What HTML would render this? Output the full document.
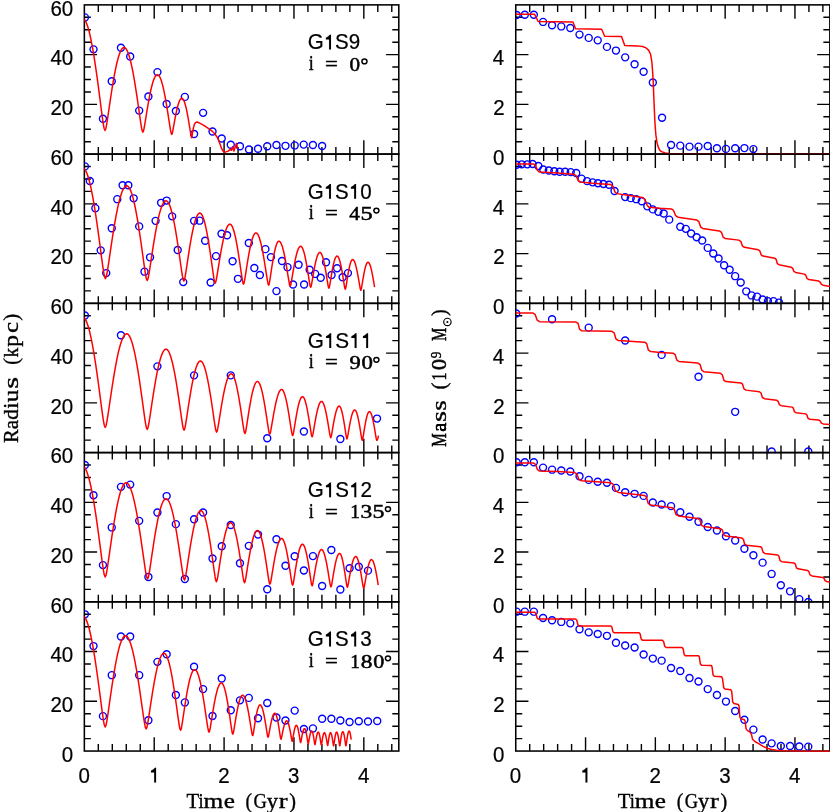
<!DOCTYPE html>
<html><head><meta charset="utf-8"><title>Orbital decay</title>
<style>html,body{margin:0;padding:0;background:#fff}body{width:830px;height:812px;overflow:hidden;font-family:"Liberation Sans",sans-serif}svg{display:block;will-change:transform}</style>
</head><body>
<svg width="830" height="812" viewBox="0 0 830 812">
<rect width="830" height="812" fill="#fff"/>
<defs>
<clipPath id="cl0"><rect x="84.35" y="4.88" width="314.45" height="149.23"/></clipPath>
<clipPath id="cr0"><rect x="515.75" y="4.88" width="316.1" height="149.98"/></clipPath>
<clipPath id="cl1"><rect x="84.35" y="154.11" width="314.45" height="149.23"/></clipPath>
<clipPath id="cr1"><rect x="515.75" y="154.11" width="316.1" height="149.98"/></clipPath>
<clipPath id="cl2"><rect x="84.35" y="303.35" width="314.45" height="149.23"/></clipPath>
<clipPath id="cr2"><rect x="515.75" y="303.35" width="316.1" height="149.98"/></clipPath>
<clipPath id="cl3"><rect x="84.35" y="452.58" width="314.45" height="149.23"/></clipPath>
<clipPath id="cr3"><rect x="515.75" y="452.58" width="316.1" height="149.98"/></clipPath>
<clipPath id="cl4"><rect x="84.35" y="601.82" width="314.45" height="149.23"/></clipPath>
<clipPath id="cr4"><rect x="515.75" y="601.82" width="316.1" height="149.98"/></clipPath>
</defs>
<rect x="84.35" y="4.88" width="314.45" height="149.23" fill="none" stroke="#000" stroke-width="1.55"/>
<path d="M98.32 4.88v7M98.32 154.11v-7M112.3 4.88v7M112.3 154.11v-7M126.27 4.88v7M126.27 154.11v-7M140.25 4.88v7M140.25 154.11v-7M154.22 4.88v13.8M154.22 154.11v-13.8M168.19 4.88v7M168.19 154.11v-7M182.17 4.88v7M182.17 154.11v-7M196.14 4.88v7M196.14 154.11v-7M210.12 4.88v7M210.12 154.11v-7M224.09 4.88v13.8M224.09 154.11v-13.8M238.06 4.88v7M238.06 154.11v-7M252.04 4.88v7M252.04 154.11v-7M266.01 4.88v7M266.01 154.11v-7M279.99 4.88v7M279.99 154.11v-7M293.96 4.88v13.8M293.96 154.11v-13.8M307.93 4.88v7M307.93 154.11v-7M321.91 4.88v7M321.91 154.11v-7M335.88 4.88v7M335.88 154.11v-7M349.86 4.88v7M349.86 154.11v-7M363.83 4.88v13.8M363.83 154.11v-13.8M377.8 4.88v7M377.8 154.11v-7M391.78 4.88v7M391.78 154.11v-7M84.35 141.68h6.5M398.8 141.68h-6.5M84.35 129.24h6.5M398.8 129.24h-6.5M84.35 116.81h6.5M398.8 116.81h-6.5M84.35 104.37h12.7M398.8 104.37h-12.7M84.35 91.93h6.5M398.8 91.93h-6.5M84.35 79.5h6.5M398.8 79.5h-6.5M84.35 67.06h6.5M398.8 67.06h-6.5M84.35 54.62h12.7M398.8 54.62h-12.7M84.35 42.19h6.5M398.8 42.19h-6.5M84.35 29.75h6.5M398.8 29.75h-6.5M84.35 17.32h6.5M398.8 17.32h-6.5" stroke="#000" stroke-width="1.4" fill="none"/>
<g fill="none" stroke="#0000ff" stroke-width="1.4" clip-path="url(#cl0)"><circle cx="84.92" cy="17.41" r="3.5"/><circle cx="93.52" cy="49.36" r="3.5"/><circle cx="102.94" cy="118.8" r="3.5"/><circle cx="111.75" cy="81.31" r="3.5"/><circle cx="120.96" cy="47.72" r="3.5"/><circle cx="130.18" cy="56.53" r="3.5"/><circle cx="139.19" cy="110.6" r="3.5"/><circle cx="148.41" cy="96.47" r="3.5"/><circle cx="157.42" cy="72.1" r="3.5"/><circle cx="166.64" cy="104.05" r="3.5"/><circle cx="175.86" cy="111.01" r="3.5"/><circle cx="184.87" cy="96.88" r="3.5"/><circle cx="194.08" cy="133.95" r="3.5"/><circle cx="203.1" cy="112.86" r="3.5"/><circle cx="212.52" cy="131.49" r="3.5"/><circle cx="221.73" cy="138.46" r="3.5"/><circle cx="230.75" cy="144.81" r="3.5"/><circle cx="239.96" cy="146.24" r="3.5"/><circle cx="249.01" cy="149.52" r="3.5"/><circle cx="258.02" cy="148.7" r="3.5"/><circle cx="267.24" cy="146.24" r="3.5"/><circle cx="276.46" cy="145.01" r="3.5"/><circle cx="285.47" cy="145.83" r="3.5"/><circle cx="294.69" cy="145.42" r="3.5"/><circle cx="303.7" cy="144.6" r="3.5"/><circle cx="312.92" cy="145.01" r="3.5"/><circle cx="322.13" cy="146.04" r="3.5"/></g>
<path d="M82.46 18.36 L83.39 18.62 L84.33 19.42 L85.27 20.75 L86.21 22.59 L87.15 24.96 L88.09 27.82 L89.03 31.18 L89.97 35 L90.91 39.29 L91.84 44.02 L92.78 49.16 L93.72 54.7 L94.66 60.6 L95.6 66.83 L96.54 73.37 L97.48 80.18 L98.42 87.21 L99.35 94.41 L100.29 101.72 L101.23 109.05 L102.17 116.21 L103.11 122.88 L104.05 128.22 L104.99 130.47 L105.78 128.81 L106.58 124.85 L107.37 119.92 L108.16 114.62 L108.96 109.2 L109.75 103.79 L110.54 98.46 L111.34 93.26 L112.13 88.22 L112.92 83.38 L113.72 78.77 L114.51 74.4 L115.31 70.31 L116.1 66.5 L116.89 63.01 L117.69 59.84 L118.48 57 L119.27 54.52 L120.07 52.4 L120.86 50.65 L121.66 49.29 L122.45 48.31 L123.24 47.72 L124.04 47.52 L124.82 47.72 L125.61 48.32 L126.39 49.32 L127.18 50.71 L127.96 52.5 L128.75 54.66 L129.53 57.19 L130.32 60.08 L131.1 63.31 L131.89 66.88 L132.67 70.76 L133.46 74.94 L134.24 79.39 L135.03 84.09 L135.81 89.03 L136.6 94.16 L137.38 99.47 L138.17 104.9 L138.95 110.42 L139.74 115.94 L140.52 121.35 L141.31 126.38 L142.09 130.41 L142.88 132.11 L143.49 130.96 L144.09 128.22 L144.7 124.81 L145.3 121.15 L145.91 117.4 L146.52 113.66 L147.12 109.98 L147.73 106.38 L148.33 102.9 L148.94 99.55 L149.54 96.36 L150.15 93.35 L150.76 90.52 L151.36 87.89 L151.97 85.47 L152.57 83.27 L153.18 81.32 L153.79 79.6 L154.39 78.13 L155 76.93 L155.6 75.98 L156.21 75.3 L156.82 74.9 L157.42 74.76 L158.02 74.9 L158.62 75.32 L159.21 76.03 L159.81 77.01 L160.41 78.27 L161.01 79.79 L161.6 81.57 L162.2 83.61 L162.8 85.89 L163.4 88.4 L163.99 91.13 L164.59 94.08 L165.19 97.21 L165.79 100.53 L166.38 104.01 L166.98 107.62 L167.58 111.36 L168.17 115.19 L168.77 119.08 L169.37 122.97 L169.97 126.78 L170.56 130.32 L171.16 133.17 L171.76 134.36 L172.18 133.64 L172.6 131.92 L173.01 129.78 L173.43 127.47 L173.85 125.12 L174.27 122.77 L174.69 120.45 L175.1 118.19 L175.52 116 L175.94 113.9 L176.36 111.89 L176.78 110 L177.2 108.22 L177.61 106.56 L178.03 105.04 L178.45 103.67 L178.87 102.43 L179.29 101.36 L179.7 100.43 L180.12 99.68 L180.54 99.08 L180.96 98.66 L181.38 98.4 L181.8 98.31 L182.21 98.41 L182.63 98.69 L183.05 99.16 L183.47 99.81 L183.89 100.64 L184.3 101.65 L184.72 102.83 L185.14 104.18 L185.56 105.69 L185.98 107.36 L186.4 109.17 L186.81 111.13 L187.23 113.21 L187.65 115.4 L188.07 117.71 L188.49 120.11 L188.9 122.59 L189.32 125.13 L189.74 127.71 L190.16 130.29 L190.58 132.82 L190.99 135.17 L191.41 137.05 L191.83 137.84 L192.34 133.73 L193.3 128.43 L194.46 124.1 L195.71 122.36 L197.16 121.98 L200.24 123.42 L204.1 125.54 L207.95 128.14 L211.81 130.84 L214.7 133.73 L217.59 137.78 L219.04 141.45 L220.48 145.3 L221.64 148.67 L222.89 150.89 L224.14 152.05 L225.3 152.14 L228.19 151.08 L230.12 149.54 L231.57 150.22 L232.53 146.65 L233.98 151.08 L236.39 143.37 L237.64 148.67" fill="none" stroke="#ff0000" stroke-width="1.5" stroke-linejoin="round" clip-path="url(#cl0)"/>
<rect x="515.75" y="4.88" width="314.1" height="149.23" fill="none" stroke="#000" stroke-width="1.55"/>
<path d="M529.71 4.88v7M529.71 154.11v-7M543.67 4.88v7M543.67 154.11v-7M557.63 4.88v7M557.63 154.11v-7M571.59 4.88v7M571.59 154.11v-7M585.55 4.88v13.8M585.55 154.11v-13.8M599.51 4.88v7M599.51 154.11v-7M613.47 4.88v7M613.47 154.11v-7M627.43 4.88v7M627.43 154.11v-7M641.39 4.88v7M641.39 154.11v-7M655.35 4.88v13.8M655.35 154.11v-13.8M669.31 4.88v7M669.31 154.11v-7M683.27 4.88v7M683.27 154.11v-7M697.23 4.88v7M697.23 154.11v-7M711.19 4.88v7M711.19 154.11v-7M725.15 4.88v13.8M725.15 154.11v-13.8M739.11 4.88v7M739.11 154.11v-7M753.07 4.88v7M753.07 154.11v-7M767.03 4.88v7M767.03 154.11v-7M780.99 4.88v7M780.99 154.11v-7M794.95 4.88v13.8M794.95 154.11v-13.8M808.91 4.88v7M808.91 154.11v-7M822.87 4.88v7M822.87 154.11v-7M515.75 141.68h6.5M829.85 141.68h-6.5M515.75 129.24h6.5M829.85 129.24h-6.5M515.75 116.81h6.5M829.85 116.81h-6.5M515.75 104.37h12.7M829.85 104.37h-12.7M515.75 91.93h6.5M829.85 91.93h-6.5M515.75 79.5h6.5M829.85 79.5h-6.5M515.75 67.06h6.5M829.85 67.06h-6.5M515.75 54.62h12.7M829.85 54.62h-12.7M515.75 42.19h6.5M829.85 42.19h-6.5M515.75 29.75h6.5M829.85 29.75h-6.5M515.75 17.32h6.5M829.85 17.32h-6.5" stroke="#000" stroke-width="1.4" fill="none"/>
<g fill="none" stroke="#0000ff" stroke-width="1.4" clip-path="url(#cr0)"><circle cx="516.63" cy="14.95" r="3.5"/><circle cx="524.82" cy="14.75" r="3.5"/><circle cx="533.83" cy="14.75" r="3.5"/><circle cx="543.05" cy="21.92" r="3.5"/><circle cx="552.06" cy="25.19" r="3.5"/><circle cx="561.28" cy="26.42" r="3.5"/><circle cx="570.29" cy="28.06" r="3.5"/><circle cx="579.51" cy="34.61" r="3.5"/><circle cx="588.72" cy="37.89" r="3.5"/><circle cx="597.73" cy="40.35" r="3.5"/><circle cx="606.95" cy="46.9" r="3.5"/><circle cx="615.96" cy="50.59" r="3.5"/><circle cx="625.18" cy="57.35" r="3.5"/><circle cx="634.6" cy="64.31" r="3.5"/><circle cx="643.61" cy="71.69" r="3.5"/><circle cx="652.83" cy="82.54" r="3.5"/><circle cx="662.05" cy="117.77" r="3.5"/><circle cx="671.06" cy="145.01" r="3.5"/><circle cx="680.28" cy="145.63" r="3.5"/><circle cx="689.49" cy="146.65" r="3.5"/><circle cx="698.51" cy="146.65" r="3.5"/><circle cx="707.72" cy="146.04" r="3.5"/><circle cx="716.94" cy="148.29" r="3.5"/><circle cx="725.95" cy="148.9" r="3.5"/><circle cx="735.17" cy="148.29" r="3.5"/><circle cx="744.39" cy="148.08" r="3.5"/><circle cx="753.4" cy="149.11" r="3.5"/></g>
<path d="M515.4 14.34 L534.65 14.34 L538.13 21.51 L572.95 21.92 L575.61 28.67 L601.63 29.29 L604.7 36.25 L621.49 36.46 L624.77 45.47 L637.47 45.88 L642.59 46.49 L646.07 47.93 L648.73 50.39 L650.58 54.28 L651.81 61.45 L652.63 71.69 L653.24 81.93 L653.86 98.31 L654.47 112.65 L655.08 124.94 L655.9 135.18 L656.93 142.35 L658.36 147.47 L660 150.54 L661.64 151.57 L665.12 153 L672.29 153.98 L830 154.07" fill="none" stroke="#ff0000" stroke-width="1.5" stroke-linejoin="round" clip-path="url(#cr0)"/>
<text x="50.41" y="15.58" font-family="Liberation Sans, sans-serif" font-size="21.7" textLength="22.8" lengthAdjust="spacingAndGlyphs" stroke="#000" stroke-width="0.22">60</text>
<text x="50.41" y="65.32" font-family="Liberation Sans, sans-serif" font-size="21.7" textLength="22.8" lengthAdjust="spacingAndGlyphs" stroke="#000" stroke-width="0.22">40</text>
<text x="50.41" y="115.07" font-family="Liberation Sans, sans-serif" font-size="21.7" textLength="22.8" lengthAdjust="spacingAndGlyphs" stroke="#000" stroke-width="0.22">20</text>
<text x="492.79" y="65.32" font-family="Liberation Sans, sans-serif" font-size="21.7" textLength="11.4" lengthAdjust="spacingAndGlyphs" stroke="#000" stroke-width="0.22">4</text>
<text x="493.25" y="115.07" font-family="Liberation Sans, sans-serif" font-size="21.7" textLength="11.4" lengthAdjust="spacingAndGlyphs" stroke="#000" stroke-width="0.22">2</text>
<text x="492.99" y="164.81" font-family="Liberation Sans, sans-serif" font-size="21.7" textLength="11.4" lengthAdjust="spacingAndGlyphs" stroke="#000" stroke-width="0.22">0</text>
<text x="307.67" y="49.48" font-family="Liberation Sans, sans-serif" font-size="21.7" textLength="15.99" lengthAdjust="spacingAndGlyphs" stroke="#000" stroke-width="0.22">G</text><path d="M330.99 49.48L330.99 34.68L329.83 34.68Q328.23 36.78 325.87 37.68L325.87 39.48L329.08 39.48L329.08 49.48Z" fill="#000" stroke="#000" stroke-width="0.08"/><text x="335.1" y="49.48" font-family="Liberation Sans, sans-serif" font-size="21.7" textLength="13.71" lengthAdjust="spacingAndGlyphs" stroke="#000" stroke-width="0.22">S</text><text x="348.81" y="49.48" font-family="Liberation Sans, sans-serif" font-size="21.7" textLength="11.44" lengthAdjust="spacingAndGlyphs" stroke="#000" stroke-width="0.22">9</text>
<text x="308.88" y="69.88" font-family="Liberation Serif, serif" font-size="20.8" textLength="4.52" lengthAdjust="spacingAndGlyphs" stroke="#000" stroke-width="0.6">i</text>
<text x="325.06" y="70.88" font-family="Liberation Serif, serif" font-size="20.8" textLength="12.86" lengthAdjust="spacingAndGlyphs" stroke="#000" stroke-width="0.42">=</text>
<text x="349.51" y="70.58" font-family="Liberation Serif, serif" font-size="19.4" textLength="10.59" lengthAdjust="spacingAndGlyphs" stroke="#000" stroke-width="0.5">0</text>
<ellipse cx="364.45" cy="61.38" rx="2.55" ry="2.4" fill="none" stroke="#000" stroke-width="1.45"/>
<rect x="84.35" y="154.11" width="314.45" height="149.23" fill="none" stroke="#000" stroke-width="1.55"/>
<path d="M98.32 154.11v7M98.32 303.35v-7M112.3 154.11v7M112.3 303.35v-7M126.27 154.11v7M126.27 303.35v-7M140.25 154.11v7M140.25 303.35v-7M154.22 154.11v13.8M154.22 303.35v-13.8M168.19 154.11v7M168.19 303.35v-7M182.17 154.11v7M182.17 303.35v-7M196.14 154.11v7M196.14 303.35v-7M210.12 154.11v7M210.12 303.35v-7M224.09 154.11v13.8M224.09 303.35v-13.8M238.06 154.11v7M238.06 303.35v-7M252.04 154.11v7M252.04 303.35v-7M266.01 154.11v7M266.01 303.35v-7M279.99 154.11v7M279.99 303.35v-7M293.96 154.11v13.8M293.96 303.35v-13.8M307.93 154.11v7M307.93 303.35v-7M321.91 154.11v7M321.91 303.35v-7M335.88 154.11v7M335.88 303.35v-7M349.86 154.11v7M349.86 303.35v-7M363.83 154.11v13.8M363.83 303.35v-13.8M377.8 154.11v7M377.8 303.35v-7M391.78 154.11v7M391.78 303.35v-7M84.35 290.91h6.5M398.8 290.91h-6.5M84.35 278.48h6.5M398.8 278.48h-6.5M84.35 266.04h6.5M398.8 266.04h-6.5M84.35 253.6h12.7M398.8 253.6h-12.7M84.35 241.17h6.5M398.8 241.17h-6.5M84.35 228.73h6.5M398.8 228.73h-6.5M84.35 216.29h6.5M398.8 216.29h-6.5M84.35 203.86h12.7M398.8 203.86h-12.7M84.35 191.42h6.5M398.8 191.42h-6.5M84.35 178.99h6.5M398.8 178.99h-6.5M84.35 166.55h6.5M398.8 166.55h-6.5" stroke="#000" stroke-width="1.4" fill="none"/>
<g fill="none" stroke="#0000ff" stroke-width="1.4" clip-path="url(#cl1)"><circle cx="84.92" cy="166.39" r="3.5"/><circle cx="89.83" cy="180.93" r="3.5"/><circle cx="95.36" cy="208.17" r="3.5"/><circle cx="100.69" cy="250.36" r="3.5"/><circle cx="106.22" cy="273.1" r="3.5"/><circle cx="111.75" cy="228.24" r="3.5"/><circle cx="117.28" cy="199.16" r="3.5"/><circle cx="122.6" cy="185.23" r="3.5"/><circle cx="128.34" cy="185.23" r="3.5"/><circle cx="133.66" cy="198.34" r="3.5"/><circle cx="139.19" cy="226.4" r="3.5"/><circle cx="144.52" cy="271.66" r="3.5"/><circle cx="150.05" cy="257.33" r="3.5"/><circle cx="155.58" cy="220.87" r="3.5"/><circle cx="161.11" cy="202.84" r="3.5"/><circle cx="166.64" cy="200.59" r="3.5"/><circle cx="172.17" cy="216.36" r="3.5"/><circle cx="177.7" cy="249.95" r="3.5"/><circle cx="183.23" cy="282.11" r="3.5"/><circle cx="194.08" cy="220.87" r="3.5"/><circle cx="199.61" cy="220.66" r="3.5"/><circle cx="205.14" cy="240.73" r="3.5"/><circle cx="210.67" cy="282.52" r="3.5"/><circle cx="216" cy="256.1" r="3.5"/><circle cx="221.53" cy="233.77" r="3.5"/><circle cx="227.06" cy="235.2" r="3.5"/><circle cx="232.59" cy="261.22" r="3.5"/><circle cx="237.92" cy="278.83" r="3.5"/><circle cx="248.81" cy="242.99" r="3.5"/><circle cx="254.34" cy="267.98" r="3.5"/><circle cx="259.87" cy="274.94" r="3.5"/><circle cx="265.4" cy="249.13" r="3.5"/><circle cx="270.93" cy="257.12" r="3.5"/><circle cx="276.46" cy="291.12" r="3.5"/><circle cx="281.99" cy="261.01" r="3.5"/><circle cx="287.52" cy="267.16" r="3.5"/><circle cx="293.05" cy="284.57" r="3.5"/><circle cx="298.58" cy="264.7" r="3.5"/><circle cx="304.11" cy="284.57" r="3.5"/><circle cx="309.64" cy="269.82" r="3.5"/><circle cx="315.17" cy="273.92" r="3.5"/><circle cx="320.7" cy="277.81" r="3.5"/><circle cx="326.02" cy="262.24" r="3.5"/><circle cx="331.55" cy="274.94" r="3.5"/><circle cx="337.08" cy="268.18" r="3.5"/><circle cx="342.61" cy="277.19" r="3.5"/><circle cx="347.94" cy="273.1" r="3.5"/></g>
<path d="M82.46 167.74 L83.41 168.01 L84.37 168.8 L85.32 170.11 L86.28 171.93 L87.24 174.27 L88.19 177.1 L89.15 180.42 L90.1 184.21 L91.06 188.45 L92.02 193.12 L92.97 198.21 L93.93 203.68 L94.88 209.52 L95.84 215.69 L96.79 222.15 L97.75 228.88 L98.71 235.84 L99.66 242.96 L100.62 250.2 L101.57 257.44 L102.53 264.52 L103.49 271.12 L104.44 276.4 L105.4 278.63 L106.29 276.77 L107.17 272.34 L108.06 266.83 L108.95 260.9 L109.84 254.84 L110.72 248.79 L111.61 242.82 L112.5 237 L113.39 231.37 L114.27 225.96 L115.16 220.8 L116.05 215.92 L116.94 211.34 L117.82 207.08 L118.71 203.17 L119.6 199.62 L120.49 196.45 L121.37 193.67 L122.26 191.3 L123.15 189.35 L124.04 187.82 L124.92 186.72 L125.81 186.06 L126.7 185.84 L127.55 186.07 L128.41 186.74 L129.26 187.86 L130.11 189.42 L130.97 191.41 L131.82 193.83 L132.67 196.66 L133.53 199.89 L134.38 203.51 L135.23 207.5 L136.09 211.84 L136.94 216.51 L137.79 221.49 L138.65 226.76 L139.5 232.28 L140.35 238.02 L141.21 243.96 L142.06 250.04 L142.91 256.21 L143.77 262.39 L144.62 268.43 L145.47 274.06 L146.33 278.57 L147.18 280.47 L147.97 278.87 L148.75 275.07 L149.54 270.34 L150.32 265.24 L151.11 260.04 L151.89 254.85 L152.68 249.72 L153.46 244.73 L154.25 239.89 L155.03 235.24 L155.82 230.81 L156.6 226.62 L157.39 222.69 L158.17 219.03 L158.96 215.67 L159.74 212.63 L160.53 209.9 L161.31 207.52 L162.1 205.48 L162.88 203.81 L163.67 202.49 L164.45 201.55 L165.24 200.98 L166.02 200.8 L166.77 200.99 L167.51 201.56 L168.25 202.51 L168.99 203.83 L169.74 205.52 L170.48 207.57 L171.22 209.97 L171.96 212.72 L172.71 215.79 L173.45 219.17 L174.19 222.85 L174.93 226.82 L175.68 231.04 L176.42 235.51 L177.16 240.19 L177.9 245.07 L178.65 250.1 L179.39 255.26 L180.13 260.5 L180.87 265.74 L181.62 270.87 L182.36 275.65 L183.1 279.47 L183.84 281.08 L184.51 279.72 L185.17 276.48 L185.84 272.44 L186.51 268.09 L187.17 263.65 L187.84 259.21 L188.5 254.84 L189.17 250.58 L189.83 246.45 L190.5 242.49 L191.17 238.7 L191.83 235.12 L192.5 231.77 L193.16 228.65 L193.83 225.78 L194.49 223.18 L195.16 220.86 L195.83 218.82 L196.49 217.09 L197.16 215.65 L197.82 214.53 L198.49 213.73 L199.15 213.25 L199.82 213.08 L200.46 213.25 L201.1 213.75 L201.74 214.58 L202.38 215.73 L203.02 217.21 L203.66 219 L204.3 221.09 L204.94 223.49 L205.58 226.16 L206.22 229.12 L206.86 232.33 L207.5 235.79 L208.14 239.47 L208.78 243.37 L209.42 247.46 L210.06 251.71 L210.7 256.1 L211.34 260.6 L211.98 265.17 L212.62 269.75 L213.26 274.22 L213.9 278.39 L214.54 281.73 L215.18 283.13 L215.8 281.95 L216.41 279.14 L217.02 275.63 L217.64 271.86 L218.25 268.01 L218.87 264.16 L219.48 260.37 L220.1 256.67 L220.71 253.09 L221.33 249.65 L221.94 246.37 L222.55 243.26 L223.17 240.35 L223.78 237.65 L224.4 235.16 L225.01 232.9 L225.63 230.89 L226.24 229.12 L226.86 227.62 L227.47 226.37 L228.08 225.4 L228.7 224.7 L229.31 224.28 L229.93 224.14 L230.49 224.29 L231.06 224.71 L231.62 225.42 L232.19 226.41 L232.75 227.68 L233.32 229.21 L233.88 231.01 L234.45 233.06 L235.01 235.35 L235.58 237.88 L236.14 240.63 L236.7 243.6 L237.27 246.75 L237.83 250.09 L238.4 253.59 L238.96 257.24 L239.53 261 L240.09 264.86 L240.66 268.77 L241.22 272.69 L241.79 276.52 L242.35 280.09 L242.92 282.95 L243.48 284.16 L244 283.13 L244.52 280.69 L245.04 277.64 L245.56 274.37 L246.08 271.03 L246.61 267.69 L247.13 264.4 L247.65 261.19 L248.17 258.08 L248.69 255.09 L249.21 252.24 L249.73 249.55 L250.25 247.02 L250.77 244.67 L251.29 242.51 L251.81 240.56 L252.33 238.81 L252.85 237.27 L253.37 235.97 L253.89 234.89 L254.41 234.04 L254.93 233.44 L255.46 233.07 L255.98 232.95 L256.51 233.08 L257.03 233.45 L257.56 234.06 L258.09 234.93 L258.62 236.03 L259.15 237.36 L259.68 238.92 L260.21 240.71 L260.74 242.7 L261.27 244.91 L261.8 247.3 L262.33 249.88 L262.85 252.63 L263.38 255.53 L263.91 258.58 L264.44 261.75 L264.97 265.03 L265.5 268.38 L266.03 271.79 L266.56 275.2 L267.09 278.54 L267.62 281.64 L268.15 284.13 L268.67 285.18 L269.1 284.3 L269.53 282.2 L269.95 279.58 L270.38 276.77 L270.81 273.89 L271.23 271.02 L271.66 268.19 L272.09 265.43 L272.52 262.75 L272.94 260.18 L273.37 257.73 L273.8 255.42 L274.22 253.24 L274.65 251.22 L275.08 249.37 L275.5 247.68 L275.93 246.18 L276.36 244.86 L276.78 243.74 L277.21 242.81 L277.64 242.08 L278.06 241.56 L278.49 241.25 L278.92 241.14 L279.39 241.25 L279.85 241.57 L280.32 242.1 L280.79 242.85 L281.26 243.8 L281.73 244.95 L282.2 246.3 L282.67 247.84 L283.14 249.56 L283.61 251.46 L284.08 253.53 L284.55 255.75 L285.02 258.12 L285.49 260.63 L285.96 263.26 L286.43 265.99 L286.9 268.82 L287.36 271.71 L287.83 274.65 L288.3 277.59 L288.77 280.47 L289.24 283.15 L289.71 285.3 L290.18 286.2 L290.62 285.4 L291.05 283.5 L291.49 281.12 L291.92 278.57 L292.36 275.96 L292.79 273.36 L293.23 270.79 L293.66 268.29 L294.1 265.86 L294.53 263.53 L294.97 261.31 L295.4 259.21 L295.84 257.24 L296.27 255.41 L296.71 253.72 L297.14 252.2 L297.58 250.83 L298.02 249.64 L298.45 248.62 L298.89 247.77 L299.32 247.12 L299.76 246.64 L300.19 246.36 L300.63 246.27 L301.04 246.36 L301.46 246.65 L301.88 247.14 L302.3 247.81 L302.72 248.68 L303.14 249.72 L303.55 250.95 L303.97 252.35 L304.39 253.91 L304.81 255.64 L305.23 257.52 L305.64 259.54 L306.06 261.7 L306.48 263.98 L306.9 266.37 L307.32 268.85 L307.74 271.42 L308.15 274.05 L308.57 276.73 L308.99 279.4 L309.41 282.02 L309.83 284.45 L310.24 286.41 L310.66 287.23 L311.05 286.53 L311.43 284.87 L311.81 282.8 L312.2 280.58 L312.58 278.3 L312.97 276.03 L313.35 273.79 L313.73 271.61 L314.12 269.5 L314.5 267.46 L314.89 265.53 L315.27 263.7 L315.66 261.98 L316.04 260.38 L316.42 258.91 L316.81 257.58 L317.19 256.39 L317.58 255.35 L317.96 254.46 L318.34 253.73 L318.73 253.15 L319.11 252.74 L319.5 252.49 L319.88 252.41 L320.26 252.49 L320.63 252.75 L321.01 253.17 L321.38 253.76 L321.76 254.52 L322.13 255.43 L322.51 256.51 L322.88 257.73 L323.26 259.1 L323.63 260.61 L324.01 262.26 L324.39 264.03 L324.76 265.91 L325.14 267.91 L325.51 270 L325.89 272.17 L326.26 274.42 L326.64 276.73 L327.01 279.06 L327.39 281.4 L327.77 283.69 L328.14 285.83 L328.52 287.53 L328.89 288.25 L329.23 287.61 L329.57 286.07 L329.92 284.16 L330.26 282.11 L330.6 280.01 L330.94 277.91 L331.28 275.84 L331.62 273.83 L331.96 271.88 L332.31 270 L332.65 268.21 L332.99 266.52 L333.33 264.93 L333.67 263.46 L334.01 262.1 L334.35 260.87 L334.69 259.77 L335.04 258.81 L335.38 257.99 L335.72 257.31 L336.06 256.78 L336.4 256.4 L336.74 256.17 L337.08 256.1 L337.43 256.18 L337.77 256.41 L338.11 256.8 L338.45 257.35 L338.79 258.05 L339.13 258.9 L339.47 259.89 L339.82 261.02 L340.16 262.29 L340.5 263.69 L340.84 265.21 L341.18 266.85 L341.52 268.6 L341.86 270.44 L342.2 272.38 L342.55 274.39 L342.89 276.47 L343.23 278.61 L343.57 280.77 L343.91 282.94 L344.25 285.06 L344.59 287.03 L344.94 288.61 L345.28 289.28 L345.58 288.68 L345.89 287.27 L346.2 285.5 L346.51 283.6 L346.81 281.66 L347.12 279.73 L347.43 277.82 L347.73 275.95 L348.04 274.15 L348.35 272.42 L348.66 270.77 L348.96 269.2 L349.27 267.74 L349.58 266.38 L349.89 265.12 L350.19 263.99 L350.5 262.97 L350.81 262.08 L351.11 261.33 L351.42 260.7 L351.73 260.21 L352.04 259.86 L352.34 259.65 L352.65 259.58 L352.99 259.65 L353.33 259.87 L353.67 260.23 L354.02 260.74 L354.36 261.39 L354.7 262.17 L355.04 263.09 L355.38 264.14 L355.72 265.32 L356.06 266.61 L356.41 268.02 L356.75 269.54 L357.09 271.15 L357.43 272.86 L357.77 274.65 L358.11 276.52 L358.45 278.45 L358.8 280.42 L359.14 282.42 L359.48 284.43 L359.82 286.39 L360.16 288.22 L360.5 289.68 L360.84 290.3 L361.14 289.74 L361.44 288.4 L361.74 286.73 L362.04 284.94 L362.34 283.11 L362.64 281.28 L362.93 279.47 L363.23 277.71 L363.53 276.01 L363.83 274.37 L364.13 272.81 L364.43 271.34 L364.73 269.95 L365.03 268.66 L365.32 267.48 L365.62 266.41 L365.92 265.45 L366.22 264.61 L366.52 263.89 L366.82 263.3 L367.12 262.84 L367.41 262.51 L367.71 262.31 L368.01 262.24 L368.83 262.7 L369.65 264.07 L370.47 266.31 L371.29 269.34 L372.11 273.07 L372.93 277.39 L373.75 282.16 L374.57 287.23" fill="none" stroke="#ff0000" stroke-width="1.5" stroke-linejoin="round" clip-path="url(#cl1)"/>
<rect x="515.75" y="154.11" width="314.1" height="149.23" fill="none" stroke="#000" stroke-width="1.55"/>
<path d="M529.71 154.11v7M529.71 303.35v-7M543.67 154.11v7M543.67 303.35v-7M557.63 154.11v7M557.63 303.35v-7M571.59 154.11v7M571.59 303.35v-7M585.55 154.11v13.8M585.55 303.35v-13.8M599.51 154.11v7M599.51 303.35v-7M613.47 154.11v7M613.47 303.35v-7M627.43 154.11v7M627.43 303.35v-7M641.39 154.11v7M641.39 303.35v-7M655.35 154.11v13.8M655.35 303.35v-13.8M669.31 154.11v7M669.31 303.35v-7M683.27 154.11v7M683.27 303.35v-7M697.23 154.11v7M697.23 303.35v-7M711.19 154.11v7M711.19 303.35v-7M725.15 154.11v13.8M725.15 303.35v-13.8M739.11 154.11v7M739.11 303.35v-7M753.07 154.11v7M753.07 303.35v-7M767.03 154.11v7M767.03 303.35v-7M780.99 154.11v7M780.99 303.35v-7M794.95 154.11v13.8M794.95 303.35v-13.8M808.91 154.11v7M808.91 303.35v-7M822.87 154.11v7M822.87 303.35v-7M515.75 290.91h6.5M829.85 290.91h-6.5M515.75 278.48h6.5M829.85 278.48h-6.5M515.75 266.04h6.5M829.85 266.04h-6.5M515.75 253.6h12.7M829.85 253.6h-12.7M515.75 241.17h6.5M829.85 241.17h-6.5M515.75 228.73h6.5M829.85 228.73h-6.5M515.75 216.29h6.5M829.85 216.29h-6.5M515.75 203.86h12.7M829.85 203.86h-12.7M515.75 191.42h6.5M829.85 191.42h-6.5M515.75 178.99h6.5M829.85 178.99h-6.5M515.75 166.55h6.5M829.85 166.55h-6.5" stroke="#000" stroke-width="1.4" fill="none"/>
<g fill="none" stroke="#0000ff" stroke-width="1.4" clip-path="url(#cr1)"><circle cx="516.63" cy="164.75" r="3.5"/><circle cx="521.75" cy="164.34" r="3.5"/><circle cx="527.28" cy="164.34" r="3.5"/><circle cx="532.6" cy="163.93" r="3.5"/><circle cx="538.34" cy="165.98" r="3.5"/><circle cx="543.25" cy="169.46" r="3.5"/><circle cx="548.78" cy="170.48" r="3.5"/><circle cx="554.31" cy="171.3" r="3.5"/><circle cx="559.64" cy="171.71" r="3.5"/><circle cx="565.17" cy="171.71" r="3.5"/><circle cx="570.7" cy="172.12" r="3.5"/><circle cx="576.23" cy="172.94" r="3.5"/><circle cx="581.55" cy="178.67" r="3.5"/><circle cx="587.08" cy="181.13" r="3.5"/><circle cx="592.61" cy="182.36" r="3.5"/><circle cx="597.94" cy="183.18" r="3.5"/><circle cx="603.47" cy="184" r="3.5"/><circle cx="609" cy="184.82" r="3.5"/><circle cx="614.53" cy="190.96" r="3.5"/><circle cx="625.18" cy="197.11" r="3.5"/><circle cx="630.71" cy="198.13" r="3.5"/><circle cx="636.24" cy="199.16" r="3.5"/><circle cx="641.77" cy="201.2" r="3.5"/><circle cx="647.3" cy="206.33" r="3.5"/><circle cx="652.83" cy="209.4" r="3.5"/><circle cx="658.36" cy="211.86" r="3.5"/><circle cx="663.69" cy="213.49" r="3.5"/><circle cx="669.22" cy="219.64" r="3.5"/><circle cx="680.28" cy="226.81" r="3.5"/><circle cx="685.81" cy="228.86" r="3.5"/><circle cx="691.13" cy="233.57" r="3.5"/><circle cx="696.66" cy="237.25" r="3.5"/><circle cx="702.19" cy="240.53" r="3.5"/><circle cx="707.72" cy="247.9" r="3.5"/><circle cx="713.25" cy="253.43" r="3.5"/><circle cx="718.58" cy="258.55" r="3.5"/><circle cx="724.11" cy="265.31" r="3.5"/><circle cx="729.64" cy="269.82" r="3.5"/><circle cx="735.17" cy="276.17" r="3.5"/><circle cx="740.7" cy="282.52" r="3.5"/><circle cx="746.23" cy="291.33" r="3.5"/><circle cx="751.55" cy="295.42" r="3.5"/><circle cx="757.08" cy="296.65" r="3.5"/><circle cx="762.61" cy="299.52" r="3.5"/><circle cx="767.94" cy="301.16" r="3.5"/><circle cx="773.47" cy="301.16" r="3.5"/><circle cx="779" cy="302.59" r="3.5"/></g>
<path d="M515.4 163.93 L533.42 163.93 L535.47 165.36 L537.52 170.48 L539.57 172.12 L557.59 172.94 L573.57 174.17 L576.02 175.6 L578.07 180.31 L580.12 181.95 L592.41 183.18 L610.43 184.41 L612.89 186.05 L614.94 191.99 L616.99 193.63 L629.28 195.47 L642.59 197.52 L645.05 199.57 L647.1 205.3 L649.14 207.35 L660 208.37 L671.27 208.99 L673.52 210.42 L675.57 215.54 L678.02 217.18 L696.87 220.05 L698.92 221.69 L700.55 226.81 L702.6 228.45 L719.4 230.9 L721.45 232.34 L723.08 237.05 L725.13 238.48 L738.86 240.12 L740.9 241.55 L742.34 245.86 L744.39 247.29 L758.31 249.75 L759.95 251.18 L761.18 254.87 L763.02 256.1 L774.7 258.14 L776.13 259.37 L777.36 263.67 L779 264.7 L791.08 267.16 L792.72 268.39 L793.95 271.46 L795.59 272.48 L804.4 274.12 L805.83 275.35 L807.06 278.63 L808.7 279.45 L818.73 281.08 L820.17 282.11 L821.4 284.36 L823.04 285.18 L830 286.41" fill="none" stroke="#ff0000" stroke-width="1.5" stroke-linejoin="round" clip-path="url(#cr1)"/>
<text x="50.41" y="164.81" font-family="Liberation Sans, sans-serif" font-size="21.7" textLength="22.8" lengthAdjust="spacingAndGlyphs" stroke="#000" stroke-width="0.22">60</text>
<text x="50.41" y="214.56" font-family="Liberation Sans, sans-serif" font-size="21.7" textLength="22.8" lengthAdjust="spacingAndGlyphs" stroke="#000" stroke-width="0.22">40</text>
<text x="50.41" y="264.3" font-family="Liberation Sans, sans-serif" font-size="21.7" textLength="22.8" lengthAdjust="spacingAndGlyphs" stroke="#000" stroke-width="0.22">20</text>
<text x="492.79" y="214.56" font-family="Liberation Sans, sans-serif" font-size="21.7" textLength="11.4" lengthAdjust="spacingAndGlyphs" stroke="#000" stroke-width="0.22">4</text>
<text x="493.25" y="264.3" font-family="Liberation Sans, sans-serif" font-size="21.7" textLength="11.4" lengthAdjust="spacingAndGlyphs" stroke="#000" stroke-width="0.22">2</text>
<text x="492.99" y="314.05" font-family="Liberation Sans, sans-serif" font-size="21.7" textLength="11.4" lengthAdjust="spacingAndGlyphs" stroke="#000" stroke-width="0.22">0</text>
<text x="307.67" y="198.71" font-family="Liberation Sans, sans-serif" font-size="21.7" textLength="15.97" lengthAdjust="spacingAndGlyphs" stroke="#000" stroke-width="0.22">G</text><path d="M330.95 198.71L330.95 183.91L329.8 183.91Q328.2 186.01 325.85 186.91L325.85 188.71L329.05 188.71L329.05 198.71Z" fill="#000" stroke="#000" stroke-width="0.08"/><text x="335.06" y="198.71" font-family="Liberation Sans, sans-serif" font-size="21.7" textLength="13.69" lengthAdjust="spacingAndGlyphs" stroke="#000" stroke-width="0.22">S</text><path d="M356.07 198.71L356.07 183.91L354.92 183.91Q353.31 186.01 350.96 186.91L350.96 188.71L354.16 188.71L354.16 198.71Z" fill="#000" stroke="#000" stroke-width="0.08"/><text x="360.18" y="198.71" font-family="Liberation Sans, sans-serif" font-size="21.7" textLength="11.42" lengthAdjust="spacingAndGlyphs" stroke="#000" stroke-width="0.22">0</text>
<text x="308.88" y="219.11" font-family="Liberation Serif, serif" font-size="20.8" textLength="4.52" lengthAdjust="spacingAndGlyphs" stroke="#000" stroke-width="0.6">i</text>
<text x="325.06" y="220.11" font-family="Liberation Serif, serif" font-size="20.8" textLength="12.86" lengthAdjust="spacingAndGlyphs" stroke="#000" stroke-width="0.42">=</text>
<text x="349.17" y="219.81" font-family="Liberation Serif, serif" font-size="19.4" textLength="10.65" lengthAdjust="spacingAndGlyphs" stroke="#000" stroke-width="0.5">4</text>
<text x="360.6" y="219.81" font-family="Liberation Serif, serif" font-size="19.4" textLength="12.17" lengthAdjust="spacingAndGlyphs" stroke="#000" stroke-width="0.5">5</text>
<ellipse cx="376.4" cy="210.61" rx="2.55" ry="2.4" fill="none" stroke="#000" stroke-width="1.45"/>
<rect x="84.35" y="303.35" width="314.45" height="149.23" fill="none" stroke="#000" stroke-width="1.55"/>
<path d="M98.32 303.35v7M98.32 452.58v-7M112.3 303.35v7M112.3 452.58v-7M126.27 303.35v7M126.27 452.58v-7M140.25 303.35v7M140.25 452.58v-7M154.22 303.35v13.8M154.22 452.58v-13.8M168.19 303.35v7M168.19 452.58v-7M182.17 303.35v7M182.17 452.58v-7M196.14 303.35v7M196.14 452.58v-7M210.12 303.35v7M210.12 452.58v-7M224.09 303.35v13.8M224.09 452.58v-13.8M238.06 303.35v7M238.06 452.58v-7M252.04 303.35v7M252.04 452.58v-7M266.01 303.35v7M266.01 452.58v-7M279.99 303.35v7M279.99 452.58v-7M293.96 303.35v13.8M293.96 452.58v-13.8M307.93 303.35v7M307.93 452.58v-7M321.91 303.35v7M321.91 452.58v-7M335.88 303.35v7M335.88 452.58v-7M349.86 303.35v7M349.86 452.58v-7M363.83 303.35v13.8M363.83 452.58v-13.8M377.8 303.35v7M377.8 452.58v-7M391.78 303.35v7M391.78 452.58v-7M84.35 440.15h6.5M398.8 440.15h-6.5M84.35 427.71h6.5M398.8 427.71h-6.5M84.35 415.27h6.5M398.8 415.27h-6.5M84.35 402.84h12.7M398.8 402.84h-12.7M84.35 390.4h6.5M398.8 390.4h-6.5M84.35 377.97h6.5M398.8 377.97h-6.5M84.35 365.53h6.5M398.8 365.53h-6.5M84.35 353.09h12.7M398.8 353.09h-12.7M84.35 340.66h6.5M398.8 340.66h-6.5M84.35 328.22h6.5M398.8 328.22h-6.5M84.35 315.78h6.5M398.8 315.78h-6.5" stroke="#000" stroke-width="1.4" fill="none"/>
<g fill="none" stroke="#0000ff" stroke-width="1.4" clip-path="url(#cl2)"><circle cx="84.92" cy="315.57" r="3.5"/><circle cx="120.96" cy="335.23" r="3.5"/><circle cx="157.42" cy="366.36" r="3.5"/><circle cx="194.08" cy="375.37" r="3.5"/><circle cx="230.75" cy="375.37" r="3.5"/><circle cx="267.24" cy="438.25" r="3.5"/><circle cx="303.9" cy="431.49" r="3.5"/><circle cx="340.36" cy="439.07" r="3.5"/><circle cx="377.02" cy="418.59" r="3.5"/></g>
<path d="M82.46 316.92 L83.4 317.19 L84.35 317.97 L85.3 319.28 L86.25 321.1 L87.19 323.43 L88.14 326.25 L89.09 329.55 L90.03 333.33 L90.98 337.55 L91.93 342.21 L92.88 347.28 L93.82 352.73 L94.77 358.54 L95.72 364.69 L96.67 371.13 L97.61 377.84 L98.56 384.77 L99.51 391.87 L100.46 399.07 L101.4 406.29 L102.35 413.35 L103.3 419.91 L104.25 425.18 L105.19 427.4 L106.09 425.52 L106.98 421.06 L107.88 415.49 L108.78 409.51 L109.67 403.4 L110.57 397.29 L111.47 391.28 L112.36 385.41 L113.26 379.73 L114.15 374.27 L115.05 369.06 L115.95 364.13 L116.84 359.51 L117.74 355.22 L118.63 351.27 L119.53 347.69 L120.43 344.5 L121.32 341.7 L122.22 339.3 L123.11 337.33 L124.01 335.79 L124.91 334.68 L125.8 334.02 L126.7 333.8 L127.55 334.02 L128.41 334.7 L129.26 335.83 L130.11 337.41 L130.97 339.42 L131.82 341.87 L132.67 344.73 L133.53 348 L134.38 351.66 L135.23 355.69 L136.09 360.08 L136.94 364.8 L137.79 369.83 L138.65 375.15 L139.5 380.73 L140.35 386.54 L141.21 392.54 L142.06 398.68 L142.91 404.92 L143.77 411.17 L144.62 417.28 L145.47 422.97 L146.33 427.53 L147.18 429.45 L147.97 427.84 L148.75 424.01 L149.54 419.23 L150.32 414.1 L151.11 408.86 L151.89 403.62 L152.68 398.46 L153.46 393.43 L154.25 388.55 L155.03 383.87 L155.82 379.4 L156.6 375.18 L157.39 371.22 L158.17 367.53 L158.96 364.15 L159.74 361.08 L160.53 358.34 L161.31 355.93 L162.1 353.88 L162.88 352.19 L163.67 350.87 L164.45 349.92 L165.24 349.35 L166.02 349.16 L166.78 349.35 L167.53 349.93 L168.28 350.89 L169.03 352.22 L169.78 353.93 L170.53 356 L171.28 358.43 L172.03 361.2 L172.78 364.3 L173.53 367.72 L174.29 371.44 L175.04 375.45 L175.79 379.71 L176.54 384.23 L177.29 388.96 L178.04 393.88 L178.79 398.97 L179.54 404.18 L180.29 409.47 L181.04 414.77 L181.8 419.95 L182.55 424.77 L183.3 428.64 L184.05 430.27 L184.73 428.88 L185.41 425.58 L186.1 421.46 L186.78 417.04 L187.46 412.51 L188.14 408 L188.83 403.55 L189.51 399.21 L190.19 395.01 L190.88 390.97 L191.56 387.12 L192.24 383.47 L192.92 380.06 L193.61 376.88 L194.29 373.96 L194.97 371.32 L195.65 368.95 L196.34 366.88 L197.02 365.11 L197.7 363.65 L198.39 362.51 L199.07 361.69 L199.75 361.2 L200.43 361.04 L201.11 361.2 L201.78 361.71 L202.46 362.55 L203.13 363.72 L203.8 365.22 L204.48 367.03 L205.15 369.16 L205.83 371.59 L206.5 374.31 L207.18 377.3 L207.85 380.56 L208.52 384.07 L209.2 387.81 L209.87 391.77 L210.55 395.91 L211.22 400.23 L211.9 404.68 L212.57 409.25 L213.24 413.89 L213.92 418.53 L214.59 423.07 L215.27 427.29 L215.94 430.68 L216.61 432.11 L217.22 430.94 L217.83 428.15 L218.43 424.68 L219.04 420.95 L219.64 417.14 L220.25 413.33 L220.86 409.58 L221.46 405.92 L222.07 402.38 L222.67 398.97 L223.28 395.73 L223.89 392.65 L224.49 389.77 L225.1 387.1 L225.7 384.64 L226.31 382.4 L226.92 380.41 L227.52 378.66 L228.13 377.17 L228.73 375.94 L229.34 374.98 L229.94 374.29 L230.55 373.87 L231.16 373.73 L231.73 373.88 L232.3 374.3 L232.88 375.01 L233.45 376 L234.02 377.25 L234.6 378.78 L235.17 380.57 L235.74 382.62 L236.32 384.9 L236.89 387.42 L237.46 390.17 L238.04 393.12 L238.61 396.27 L239.18 399.59 L239.76 403.08 L240.33 406.71 L240.9 410.46 L241.48 414.31 L242.05 418.21 L242.62 422.11 L243.2 425.94 L243.77 429.49 L244.34 432.34 L244.92 433.54 L245.44 432.5 L245.96 430.02 L246.48 426.93 L247 423.6 L247.52 420.2 L248.04 416.81 L248.56 413.47 L249.08 410.2 L249.6 407.05 L250.12 404.01 L250.64 401.12 L251.16 398.38 L251.68 395.81 L252.2 393.43 L252.72 391.23 L253.24 389.24 L253.77 387.47 L254.29 385.91 L254.81 384.58 L255.33 383.48 L255.85 382.63 L256.37 382.01 L256.89 381.64 L257.41 381.52 L257.92 381.64 L258.43 382.02 L258.95 382.64 L259.46 383.51 L259.97 384.62 L260.48 385.96 L260.99 387.54 L261.51 389.33 L262.02 391.35 L262.53 393.57 L263.04 395.98 L263.55 398.58 L264.07 401.35 L264.58 404.28 L265.09 407.35 L265.6 410.54 L266.11 413.84 L266.63 417.23 L267.14 420.66 L267.65 424.1 L268.16 427.46 L268.67 430.59 L269.19 433.1 L269.7 434.16 L270.19 433.26 L270.69 431.13 L271.18 428.48 L271.68 425.62 L272.17 422.71 L272.67 419.8 L273.16 416.93 L273.66 414.13 L274.15 411.42 L274.65 408.81 L275.14 406.33 L275.64 403.98 L276.13 401.77 L276.63 399.73 L277.12 397.84 L277.62 396.14 L278.11 394.61 L278.61 393.27 L279.1 392.13 L279.6 391.19 L280.09 390.46 L280.59 389.93 L281.08 389.61 L281.58 389.51 L282.04 389.62 L282.5 389.94 L282.96 390.49 L283.42 391.25 L283.88 392.22 L284.34 393.4 L284.8 394.77 L285.27 396.35 L285.73 398.11 L286.19 400.05 L286.65 402.17 L287.11 404.44 L287.57 406.87 L288.03 409.43 L288.49 412.12 L288.95 414.92 L289.41 417.81 L289.87 420.77 L290.33 423.77 L290.8 426.78 L291.26 429.73 L291.72 432.47 L292.18 434.67 L292.64 435.59 L293.05 434.81 L293.46 432.95 L293.87 430.64 L294.28 428.15 L294.69 425.61 L295.1 423.07 L295.51 420.57 L295.92 418.13 L296.33 415.77 L296.73 413.5 L297.14 411.34 L297.55 409.29 L297.96 407.37 L298.37 405.58 L298.78 403.94 L299.19 402.45 L299.6 401.12 L300.01 399.96 L300.42 398.96 L300.83 398.15 L301.24 397.5 L301.65 397.04 L302.06 396.77 L302.47 396.67 L302.87 396.77 L303.27 397.06 L303.67 397.53 L304.07 398.19 L304.48 399.04 L304.88 400.06 L305.28 401.26 L305.68 402.64 L306.08 404.17 L306.48 405.86 L306.88 407.7 L307.28 409.69 L307.68 411.8 L308.09 414.03 L308.49 416.37 L308.89 418.81 L309.29 421.33 L309.69 423.91 L310.09 426.53 L310.49 429.15 L310.89 431.71 L311.29 434.1 L311.7 436.01 L312.1 436.82 L312.49 436.11 L312.88 434.42 L313.27 432.31 L313.67 430.05 L314.06 427.73 L314.45 425.42 L314.84 423.15 L315.24 420.92 L315.63 418.77 L316.02 416.71 L316.41 414.73 L316.81 412.87 L317.2 411.12 L317.59 409.5 L317.98 408 L318.38 406.65 L318.77 405.44 L319.16 404.38 L319.56 403.47 L319.95 402.72 L320.34 402.14 L320.73 401.72 L321.13 401.47 L321.52 401.39 L321.9 401.47 L322.29 401.73 L322.67 402.16 L323.05 402.76 L323.44 403.52 L323.82 404.45 L324.21 405.53 L324.59 406.77 L324.97 408.16 L325.36 409.68 L325.74 411.35 L326.13 413.14 L326.51 415.04 L326.89 417.06 L327.28 419.17 L327.66 421.38 L328.05 423.65 L328.43 425.98 L328.81 428.34 L329.2 430.71 L329.58 433.03 L329.97 435.18 L330.35 436.91 L330.73 437.64 L331.08 437.01 L331.43 435.5 L331.78 433.63 L332.13 431.61 L332.48 429.55 L332.83 427.49 L333.18 425.47 L333.53 423.49 L333.88 421.57 L334.23 419.73 L334.58 417.98 L334.93 416.32 L335.28 414.76 L335.63 413.32 L335.98 411.99 L336.33 410.78 L336.68 409.7 L337.03 408.76 L337.38 407.95 L337.73 407.29 L338.08 406.77 L338.43 406.4 L338.78 406.17 L339.13 406.1 L339.46 406.17 L339.78 406.41 L340.11 406.79 L340.43 407.33 L340.75 408.03 L341.08 408.86 L341.4 409.84 L341.73 410.96 L342.05 412.22 L342.38 413.6 L342.7 415.1 L343.02 416.72 L343.35 418.44 L343.67 420.27 L344 422.18 L344.32 424.17 L344.65 426.22 L344.97 428.33 L345.29 430.47 L345.62 432.61 L345.94 434.7 L346.27 436.65 L346.59 438.21 L346.92 438.87 L347.24 438.29 L347.56 436.91 L347.89 435.19 L348.21 433.35 L348.54 431.46 L348.86 429.58 L349.19 427.72 L349.51 425.91 L349.83 424.16 L350.16 422.47 L350.48 420.87 L350.81 419.35 L351.13 417.92 L351.46 416.6 L351.78 415.38 L352.1 414.28 L352.43 413.29 L352.75 412.43 L353.08 411.69 L353.4 411.08 L353.73 410.6 L354.05 410.26 L354.37 410.06 L354.7 409.99 L355.01 410.06 L355.33 410.28 L355.65 410.63 L355.96 411.13 L356.28 411.77 L356.59 412.55 L356.91 413.45 L357.22 414.49 L357.54 415.65 L357.86 416.93 L358.17 418.32 L358.49 419.81 L358.8 421.41 L359.12 423.09 L359.44 424.86 L359.75 426.7 L360.07 428.6 L360.38 430.55 L360.7 432.53 L361.01 434.51 L361.33 436.45 L361.65 438.25 L361.96 439.69 L362.28 440.3 L362.58 439.73 L362.87 438.36 L363.17 436.65 L363.47 434.82 L363.77 432.95 L364.07 431.08 L364.37 429.24 L364.67 427.44 L364.97 425.7 L365.26 424.02 L365.56 422.43 L365.86 420.92 L366.16 419.5 L366.46 418.19 L366.76 416.98 L367.06 415.88 L367.35 414.9 L367.65 414.05 L367.95 413.31 L368.25 412.71 L368.55 412.24 L368.85 411.9 L369.15 411.69 L369.45 411.63 L369.75 411.69 L370.06 411.9 L370.37 412.24 L370.67 412.71 L370.98 413.31 L371.29 414.05 L371.6 414.9 L371.9 415.88 L372.21 416.98 L372.52 418.19 L372.83 419.5 L373.13 420.92 L373.44 422.43 L373.75 424.02 L374.05 425.7 L374.36 427.44 L374.67 429.24 L374.98 431.08 L375.28 432.95 L375.59 434.82 L375.9 436.65 L376.2 438.36 L376.51 439.73 L376.82 440.3 L377.02 440.21 L377.23 439.96 L377.43 439.53 L377.64 438.96 L377.84 438.26 L378.05 437.45 L378.25 436.55 L378.46 435.59" fill="none" stroke="#ff0000" stroke-width="1.5" stroke-linejoin="round" clip-path="url(#cl2)"/>
<rect x="515.75" y="303.35" width="314.1" height="149.23" fill="none" stroke="#000" stroke-width="1.55"/>
<path d="M529.71 303.35v7M529.71 452.58v-7M543.67 303.35v7M543.67 452.58v-7M557.63 303.35v7M557.63 452.58v-7M571.59 303.35v7M571.59 452.58v-7M585.55 303.35v13.8M585.55 452.58v-13.8M599.51 303.35v7M599.51 452.58v-7M613.47 303.35v7M613.47 452.58v-7M627.43 303.35v7M627.43 452.58v-7M641.39 303.35v7M641.39 452.58v-7M655.35 303.35v13.8M655.35 452.58v-13.8M669.31 303.35v7M669.31 452.58v-7M683.27 303.35v7M683.27 452.58v-7M697.23 303.35v7M697.23 452.58v-7M711.19 303.35v7M711.19 452.58v-7M725.15 303.35v13.8M725.15 452.58v-13.8M739.11 303.35v7M739.11 452.58v-7M753.07 303.35v7M753.07 452.58v-7M767.03 303.35v7M767.03 452.58v-7M780.99 303.35v7M780.99 452.58v-7M794.95 303.35v13.8M794.95 452.58v-13.8M808.91 303.35v7M808.91 452.58v-7M822.87 303.35v7M822.87 452.58v-7M515.75 440.15h6.5M829.85 440.15h-6.5M515.75 427.71h6.5M829.85 427.71h-6.5M515.75 415.27h6.5M829.85 415.27h-6.5M515.75 402.84h12.7M829.85 402.84h-12.7M515.75 390.4h6.5M829.85 390.4h-6.5M515.75 377.97h6.5M829.85 377.97h-6.5M515.75 365.53h6.5M829.85 365.53h-6.5M515.75 353.09h12.7M829.85 353.09h-12.7M515.75 340.66h6.5M829.85 340.66h-6.5M515.75 328.22h6.5M829.85 328.22h-6.5M515.75 315.78h6.5M829.85 315.78h-6.5" stroke="#000" stroke-width="1.4" fill="none"/>
<g fill="none" stroke="#0000ff" stroke-width="1.4" clip-path="url(#cr2)"><circle cx="516.22" cy="313.52" r="3.5"/><circle cx="552.06" cy="319.25" r="3.5"/><circle cx="588.72" cy="327.65" r="3.5"/><circle cx="625.18" cy="340.55" r="3.5"/><circle cx="661.64" cy="354.89" r="3.5"/><circle cx="698.51" cy="376.81" r="3.5"/><circle cx="735.17" cy="411.83" r="3.5"/><circle cx="771.63" cy="451.57" r="3.5"/><circle cx="808.29" cy="451.57" r="3.5"/></g>
<path d="M515.4 313.11 L533.01 313.11 L535.06 314.34 L537.11 320.07 L539.57 321.71 L576.02 322.12 L578.07 323.35 L579.51 329.08 L581.55 330.72 L611.87 331.34 L614.12 332.77 L615.96 338.92 L618.42 340.55 L644.64 342.19 L646.69 343.63 L648.33 349.98 L650.78 351.61 L660 352.43 L673.31 353.25 L675.16 354.69 L676.8 360.01 L678.84 361.45 L697.89 363.08 L700.14 364.72 L701.78 370.25 L703.83 371.69 L720.42 373.33 L722.27 374.76 L723.9 380.29 L725.95 381.52 L740.9 382.95 L742.54 384.18 L743.98 388.89 L746.02 390.12 L759.34 391.76 L760.98 392.99 L762.41 397.49 L764.46 398.72 L776.75 400.36 L778.18 401.39 L779.41 404.66 L781.25 405.69 L792.11 407.12 L793.34 408.14 L794.36 411.63 L796 412.65 L805.42 413.88 L806.86 414.9 L808.08 418.39 L809.93 419.2 L818.73 420.02 L820.17 420.84 L821.4 423.1 L823.24 423.92 L830 424.53" fill="none" stroke="#ff0000" stroke-width="1.5" stroke-linejoin="round" clip-path="url(#cr2)"/>
<text x="50.41" y="314.05" font-family="Liberation Sans, sans-serif" font-size="21.7" textLength="22.8" lengthAdjust="spacingAndGlyphs" stroke="#000" stroke-width="0.22">60</text>
<text x="50.41" y="363.79" font-family="Liberation Sans, sans-serif" font-size="21.7" textLength="22.8" lengthAdjust="spacingAndGlyphs" stroke="#000" stroke-width="0.22">40</text>
<text x="50.41" y="413.54" font-family="Liberation Sans, sans-serif" font-size="21.7" textLength="22.8" lengthAdjust="spacingAndGlyphs" stroke="#000" stroke-width="0.22">20</text>
<text x="492.79" y="363.79" font-family="Liberation Sans, sans-serif" font-size="21.7" textLength="11.4" lengthAdjust="spacingAndGlyphs" stroke="#000" stroke-width="0.22">4</text>
<text x="493.25" y="413.54" font-family="Liberation Sans, sans-serif" font-size="21.7" textLength="11.4" lengthAdjust="spacingAndGlyphs" stroke="#000" stroke-width="0.22">2</text>
<text x="492.99" y="463.28" font-family="Liberation Sans, sans-serif" font-size="21.7" textLength="11.4" lengthAdjust="spacingAndGlyphs" stroke="#000" stroke-width="0.22">0</text>
<text x="307.66" y="347.95" font-family="Liberation Sans, sans-serif" font-size="21.7" textLength="16.14" lengthAdjust="spacingAndGlyphs" stroke="#000" stroke-width="0.22">G</text><path d="M331.19 347.95L331.19 333.15L330.02 333.15Q328.4 335.25 326.03 336.15L326.03 337.95L329.26 337.95L329.26 347.95Z" fill="#000" stroke="#000" stroke-width="0.08"/><text x="335.34" y="347.95" font-family="Liberation Sans, sans-serif" font-size="21.7" textLength="13.84" lengthAdjust="spacingAndGlyphs" stroke="#000" stroke-width="0.22">S</text><path d="M356.56 347.95L356.56 333.15L355.4 333.15Q353.78 335.25 351.4 336.15L351.4 337.95L354.64 337.95L354.64 347.95Z" fill="#000" stroke="#000" stroke-width="0.08"/><path d="M368.1 347.95L368.1 333.15L366.94 333.15Q365.32 335.25 362.94 336.15L362.94 337.95L366.18 337.95L366.18 347.95Z" fill="#000" stroke="#000" stroke-width="0.08"/>
<text x="308.88" y="368.35" font-family="Liberation Serif, serif" font-size="20.8" textLength="4.52" lengthAdjust="spacingAndGlyphs" stroke="#000" stroke-width="0.6">i</text>
<text x="325.06" y="369.35" font-family="Liberation Serif, serif" font-size="20.8" textLength="12.86" lengthAdjust="spacingAndGlyphs" stroke="#000" stroke-width="0.42">=</text>
<text x="349.57" y="369.05" font-family="Liberation Serif, serif" font-size="19.4" textLength="11.23" lengthAdjust="spacingAndGlyphs" stroke="#000" stroke-width="0.5">9</text>
<text x="361.44" y="369.05" font-family="Liberation Serif, serif" font-size="19.4" textLength="11.41" lengthAdjust="spacingAndGlyphs" stroke="#000" stroke-width="0.5">0</text>
<ellipse cx="376.4" cy="359.85" rx="2.55" ry="2.4" fill="none" stroke="#000" stroke-width="1.45"/>
<rect x="84.35" y="452.58" width="314.45" height="149.23" fill="none" stroke="#000" stroke-width="1.55"/>
<path d="M98.32 452.58v7M98.32 601.82v-7M112.3 452.58v7M112.3 601.82v-7M126.27 452.58v7M126.27 601.82v-7M140.25 452.58v7M140.25 601.82v-7M154.22 452.58v13.8M154.22 601.82v-13.8M168.19 452.58v7M168.19 601.82v-7M182.17 452.58v7M182.17 601.82v-7M196.14 452.58v7M196.14 601.82v-7M210.12 452.58v7M210.12 601.82v-7M224.09 452.58v13.8M224.09 601.82v-13.8M238.06 452.58v7M238.06 601.82v-7M252.04 452.58v7M252.04 601.82v-7M266.01 452.58v7M266.01 601.82v-7M279.99 452.58v7M279.99 601.82v-7M293.96 452.58v13.8M293.96 601.82v-13.8M307.93 452.58v7M307.93 601.82v-7M321.91 452.58v7M321.91 601.82v-7M335.88 452.58v7M335.88 601.82v-7M349.86 452.58v7M349.86 601.82v-7M363.83 452.58v13.8M363.83 601.82v-13.8M377.8 452.58v7M377.8 601.82v-7M391.78 452.58v7M391.78 601.82v-7M84.35 589.38h6.5M398.8 589.38h-6.5M84.35 576.94h6.5M398.8 576.94h-6.5M84.35 564.51h6.5M398.8 564.51h-6.5M84.35 552.07h12.7M398.8 552.07h-12.7M84.35 539.64h6.5M398.8 539.64h-6.5M84.35 527.2h6.5M398.8 527.2h-6.5M84.35 514.76h6.5M398.8 514.76h-6.5M84.35 502.33h12.7M398.8 502.33h-12.7M84.35 489.89h6.5M398.8 489.89h-6.5M84.35 477.45h6.5M398.8 477.45h-6.5M84.35 465.02h6.5M398.8 465.02h-6.5" stroke="#000" stroke-width="1.4" fill="none"/>
<g fill="none" stroke="#0000ff" stroke-width="1.4" clip-path="url(#cl3)"><circle cx="84.92" cy="464.95" r="3.5"/><circle cx="93.52" cy="495.27" r="3.5"/><circle cx="102.94" cy="565.11" r="3.5"/><circle cx="111.75" cy="527.42" r="3.5"/><circle cx="120.96" cy="486.87" r="3.5"/><circle cx="130.18" cy="484.61" r="3.5"/><circle cx="139.19" cy="520.87" r="3.5"/><circle cx="148.41" cy="576.99" r="3.5"/><circle cx="157.42" cy="512.47" r="3.5"/><circle cx="166.64" cy="496.08" r="3.5"/><circle cx="175.86" cy="524.14" r="3.5"/><circle cx="184.87" cy="579.04" r="3.5"/><circle cx="194.08" cy="519.23" r="3.5"/><circle cx="203.1" cy="512.47" r="3.5"/><circle cx="212.52" cy="558.55" r="3.5"/><circle cx="221.73" cy="546.27" r="3.5"/><circle cx="230.75" cy="524.96" r="3.5"/><circle cx="239.96" cy="563.27" r="3.5"/><circle cx="248.81" cy="545.86" r="3.5"/><circle cx="258.02" cy="534.59" r="3.5"/><circle cx="267.24" cy="589.28" r="3.5"/><circle cx="276.46" cy="539.3" r="3.5"/><circle cx="285.47" cy="565.72" r="3.5"/><circle cx="294.69" cy="556.3" r="3.5"/><circle cx="303.9" cy="570.43" r="3.5"/><circle cx="312.92" cy="556.1" r="3.5"/><circle cx="322.13" cy="586" r="3.5"/><circle cx="331.35" cy="549.95" r="3.5"/><circle cx="340.36" cy="589.48" r="3.5"/><circle cx="349.58" cy="568.18" r="3.5"/><circle cx="358.8" cy="566.75" r="3.5"/><circle cx="368.01" cy="570.64" r="3.5"/></g>
<path d="M82.46 466.31 L83.4 466.57 L84.35 467.36 L85.3 468.67 L86.25 470.49 L87.19 472.82 L88.14 475.65 L89.09 478.96 L90.03 482.74 L90.98 486.98 L91.93 491.64 L92.88 496.72 L93.82 502.18 L94.77 508.01 L95.72 514.16 L96.67 520.62 L97.61 527.34 L98.56 534.28 L99.51 541.39 L100.46 548.61 L101.4 555.84 L102.35 562.91 L103.3 569.49 L104.25 574.77 L105.19 576.99 L106.06 575.1 L106.93 570.61 L107.8 565 L108.67 558.98 L109.55 552.83 L110.42 546.69 L111.29 540.63 L112.16 534.72 L113.03 529 L113.9 523.51 L114.77 518.27 L115.64 513.31 L116.51 508.66 L117.38 504.34 L118.25 500.36 L119.12 496.76 L119.99 493.54 L120.86 490.72 L121.73 488.32 L122.6 486.33 L123.47 484.78 L124.34 483.67 L125.21 482.99 L126.08 482.77 L126.98 483 L127.88 483.68 L128.77 484.82 L129.67 486.41 L130.56 488.44 L131.46 490.9 L132.36 493.78 L133.25 497.07 L134.15 500.75 L135.05 504.8 L135.94 509.22 L136.84 513.97 L137.73 519.04 L138.63 524.39 L139.53 530.01 L140.42 535.85 L141.32 541.89 L142.21 548.08 L143.11 554.35 L144.01 560.64 L144.9 566.79 L145.8 572.52 L146.69 577.11 L147.59 579.04 L148.36 577.43 L149.13 573.6 L149.89 568.82 L150.66 563.69 L151.43 558.45 L152.2 553.21 L152.97 548.05 L153.73 543.02 L154.5 538.14 L155.27 533.46 L156.04 529 L156.81 524.77 L157.58 520.81 L158.34 517.12 L159.11 513.74 L159.88 510.67 L160.65 507.93 L161.42 505.52 L162.18 503.47 L162.95 501.78 L163.72 500.46 L164.49 499.51 L165.26 498.94 L166.02 498.75 L166.79 498.94 L167.56 499.52 L168.33 500.48 L169.1 501.82 L169.86 503.53 L170.63 505.61 L171.4 508.04 L172.17 510.82 L172.94 513.93 L173.7 517.36 L174.47 521.09 L175.24 525.1 L176.01 529.38 L176.78 533.9 L177.55 538.65 L178.31 543.58 L179.08 548.68 L179.85 553.91 L180.62 559.21 L181.39 564.52 L182.15 569.72 L182.92 574.55 L183.69 578.43 L184.46 580.06 L185.14 578.67 L185.82 575.36 L186.51 571.23 L187.19 566.79 L187.87 562.26 L188.55 557.73 L189.24 553.27 L189.92 548.91 L190.6 544.7 L191.29 540.65 L191.97 536.79 L192.65 533.13 L193.33 529.7 L194.02 526.52 L194.7 523.59 L195.38 520.94 L196.06 518.56 L196.75 516.49 L197.43 514.71 L198.11 513.25 L198.8 512.11 L199.48 511.29 L200.16 510.79 L200.84 510.63 L201.49 510.8 L202.14 511.3 L202.79 512.14 L203.44 513.31 L204.09 514.81 L204.73 516.63 L205.38 518.75 L206.03 521.18 L206.68 523.9 L207.33 526.89 L207.98 530.15 L208.63 533.66 L209.28 537.4 L209.92 541.36 L210.57 545.5 L211.22 549.82 L211.87 554.27 L212.52 558.84 L213.17 563.48 L213.82 568.12 L214.46 572.66 L215.11 576.88 L215.76 580.27 L216.41 581.7 L217 580.52 L217.59 577.7 L218.18 574.2 L218.77 570.43 L219.35 566.57 L219.94 562.73 L220.53 558.94 L221.12 555.24 L221.71 551.66 L222.3 548.22 L222.89 544.93 L223.48 541.83 L224.06 538.92 L224.65 536.21 L225.24 533.73 L225.83 531.47 L226.42 529.45 L227.01 527.69 L227.6 526.18 L228.19 524.94 L228.78 523.97 L229.36 523.27 L229.95 522.85 L230.54 522.71 L231.12 522.85 L231.71 523.28 L232.29 523.99 L232.87 524.98 L233.45 526.24 L234.03 527.78 L234.61 529.57 L235.2 531.62 L235.78 533.92 L236.36 536.45 L236.94 539.2 L237.52 542.16 L238.11 545.32 L238.69 548.66 L239.27 552.16 L239.85 555.8 L240.43 559.57 L241.02 563.42 L241.6 567.34 L242.18 571.26 L242.76 575.09 L243.34 578.66 L243.92 581.52 L244.51 582.72 L245.04 581.68 L245.58 579.18 L246.12 576.08 L246.66 572.74 L247.19 569.33 L247.73 565.93 L248.27 562.57 L248.81 559.29 L249.34 556.12 L249.88 553.08 L250.42 550.17 L250.96 547.42 L251.5 544.84 L252.03 542.45 L252.57 540.25 L253.11 538.25 L253.65 536.47 L254.18 534.9 L254.72 533.57 L255.26 532.47 L255.8 531.61 L256.33 530.99 L256.87 530.62 L257.41 530.49 L257.93 530.62 L258.45 531 L258.97 531.64 L259.49 532.52 L260.01 533.65 L260.53 535.02 L261.05 536.63 L261.57 538.46 L262.09 540.51 L262.62 542.78 L263.14 545.24 L263.66 547.89 L264.18 550.71 L264.7 553.7 L265.22 556.83 L265.74 560.08 L266.26 563.45 L266.78 566.9 L267.3 570.4 L267.82 573.9 L268.34 577.33 L268.86 580.52 L269.38 583.08 L269.9 584.16 L270.39 583.24 L270.88 581.06 L271.36 578.35 L271.85 575.43 L272.34 572.45 L272.82 569.47 L273.31 566.53 L273.8 563.67 L274.28 560.89 L274.77 558.23 L275.25 555.69 L275.74 553.29 L276.23 551.03 L276.71 548.94 L277.2 547.01 L277.69 545.26 L278.17 543.7 L278.66 542.34 L279.15 541.17 L279.63 540.21 L280.12 539.46 L280.61 538.92 L281.09 538.59 L281.58 538.48 L282.04 538.59 L282.5 538.93 L282.96 539.48 L283.42 540.25 L283.88 541.23 L284.34 542.42 L284.8 543.82 L285.27 545.42 L285.73 547.2 L286.19 549.17 L286.65 551.31 L287.11 553.62 L287.57 556.08 L288.03 558.67 L288.49 561.4 L288.95 564.23 L289.41 567.16 L289.87 570.16 L290.33 573.21 L290.8 576.26 L291.26 579.24 L291.72 582.02 L292.18 584.24 L292.64 585.18 L293.05 584.36 L293.46 582.41 L293.87 579.97 L294.28 577.35 L294.69 574.68 L295.1 572.01 L295.51 569.37 L295.92 566.8 L296.33 564.32 L296.73 561.93 L297.14 559.65 L297.55 557.49 L297.96 555.47 L298.37 553.59 L298.78 551.87 L299.19 550.3 L299.6 548.9 L300.01 547.67 L300.42 546.63 L300.83 545.76 L301.24 545.09 L301.65 544.61 L302.06 544.31 L302.47 544.22 L302.87 544.32 L303.27 544.61 L303.67 545.1 L304.07 545.79 L304.48 546.66 L304.88 547.73 L305.28 548.97 L305.68 550.39 L306.08 551.98 L306.48 553.73 L306.88 555.64 L307.28 557.69 L307.68 559.88 L308.09 562.19 L308.49 564.62 L308.89 567.14 L309.29 569.75 L309.69 572.42 L310.09 575.13 L310.49 577.85 L310.89 580.51 L311.29 582.98 L311.7 584.96 L312.1 585.8 L312.49 585.07 L312.88 583.34 L313.27 581.18 L313.67 578.87 L314.06 576.5 L314.45 574.14 L314.84 571.81 L315.24 569.53 L315.63 567.33 L316.02 565.22 L316.41 563.2 L316.81 561.29 L317.2 559.5 L317.59 557.84 L317.98 556.31 L318.38 554.93 L318.77 553.69 L319.16 552.6 L319.56 551.68 L319.95 550.91 L320.34 550.31 L320.73 549.89 L321.13 549.63 L321.52 549.54 L321.91 549.63 L322.3 549.9 L322.7 550.34 L323.09 550.95 L323.48 551.74 L323.87 552.69 L324.27 553.8 L324.66 555.08 L325.05 556.5 L325.44 558.07 L325.84 559.78 L326.23 561.62 L326.62 563.59 L327.01 565.66 L327.41 567.83 L327.8 570.1 L328.19 572.43 L328.58 574.83 L328.98 577.26 L329.37 579.7 L329.76 582.08 L330.15 584.29 L330.55 586.07 L330.94 586.82 L331.3 586.15 L331.66 584.56 L332.02 582.57 L332.37 580.44 L332.73 578.26 L333.09 576.08 L333.45 573.94 L333.81 571.84 L334.17 569.82 L334.52 567.87 L334.88 566.01 L335.24 564.25 L335.6 562.61 L335.96 561.08 L336.32 559.67 L336.67 558.39 L337.03 557.25 L337.39 556.25 L337.75 555.4 L338.11 554.7 L338.47 554.15 L338.83 553.75 L339.18 553.51 L339.54 553.43 L339.87 553.51 L340.19 553.75 L340.52 554.15 L340.84 554.71 L341.16 555.42 L341.49 556.29 L341.81 557.3 L342.14 558.45 L342.46 559.74 L342.79 561.17 L343.11 562.72 L343.43 564.39 L343.76 566.17 L344.08 568.05 L344.41 570.02 L344.73 572.07 L345.06 574.19 L345.38 576.36 L345.7 578.56 L346.03 580.77 L346.35 582.93 L346.68 584.94 L347 586.55 L347.33 587.23 L347.68 586.61 L348.03 585.15 L348.38 583.32 L348.72 581.36 L349.07 579.35 L349.42 577.35 L349.77 575.37 L350.12 573.45 L350.47 571.58 L350.82 569.79 L351.17 568.08 L351.52 566.46 L351.87 564.95 L352.22 563.54 L352.57 562.24 L352.92 561.07 L353.27 560.02 L353.62 559.1 L353.97 558.31 L354.32 557.67 L354.67 557.16 L355.02 556.8 L355.37 556.58 L355.72 556.51 L356.06 556.58 L356.39 556.81 L356.72 557.18 L357.05 557.71 L357.39 558.37 L357.72 559.19 L358.05 560.14 L358.39 561.22 L358.72 562.43 L359.05 563.77 L359.38 565.23 L359.72 566.8 L360.05 568.47 L360.38 570.23 L360.72 572.08 L361.05 574.01 L361.38 576 L361.71 578.04 L362.05 580.11 L362.38 582.19 L362.71 584.22 L363.05 586.1 L363.38 587.62 L363.71 588.25 L364.04 587.68 L364.36 586.31 L364.68 584.61 L365.01 582.77 L365.33 580.9 L365.66 579.03 L365.98 577.19 L366.31 575.39 L366.63 573.65 L366.95 571.98 L367.28 570.38 L367.6 568.87 L367.93 567.46 L368.25 566.14 L368.58 564.93 L368.9 563.84 L369.22 562.86 L369.55 562 L369.87 561.27 L370.2 560.66 L370.52 560.19 L370.85 559.85 L371.17 559.65 L371.49 559.58 L372.34 560.05 L373.18 561.45 L374.03 563.74 L374.87 566.85 L375.72 570.67 L376.56 575.1 L377.41 579.98 L378.25 585.18" fill="none" stroke="#ff0000" stroke-width="1.5" stroke-linejoin="round" clip-path="url(#cl3)"/>
<rect x="515.75" y="452.58" width="314.1" height="149.23" fill="none" stroke="#000" stroke-width="1.55"/>
<path d="M529.71 452.58v7M529.71 601.82v-7M543.67 452.58v7M543.67 601.82v-7M557.63 452.58v7M557.63 601.82v-7M571.59 452.58v7M571.59 601.82v-7M585.55 452.58v13.8M585.55 601.82v-13.8M599.51 452.58v7M599.51 601.82v-7M613.47 452.58v7M613.47 601.82v-7M627.43 452.58v7M627.43 601.82v-7M641.39 452.58v7M641.39 601.82v-7M655.35 452.58v13.8M655.35 601.82v-13.8M669.31 452.58v7M669.31 601.82v-7M683.27 452.58v7M683.27 601.82v-7M697.23 452.58v7M697.23 601.82v-7M711.19 452.58v7M711.19 601.82v-7M725.15 452.58v13.8M725.15 601.82v-13.8M739.11 452.58v7M739.11 601.82v-7M753.07 452.58v7M753.07 601.82v-7M767.03 452.58v7M767.03 601.82v-7M780.99 452.58v7M780.99 601.82v-7M794.95 452.58v13.8M794.95 601.82v-13.8M808.91 452.58v7M808.91 601.82v-7M822.87 452.58v7M822.87 601.82v-7M515.75 589.38h6.5M829.85 589.38h-6.5M515.75 576.94h6.5M829.85 576.94h-6.5M515.75 564.51h6.5M829.85 564.51h-6.5M515.75 552.07h12.7M829.85 552.07h-12.7M515.75 539.64h6.5M829.85 539.64h-6.5M515.75 527.2h6.5M829.85 527.2h-6.5M515.75 514.76h6.5M829.85 514.76h-6.5M515.75 502.33h12.7M829.85 502.33h-12.7M515.75 489.89h6.5M829.85 489.89h-6.5M515.75 477.45h6.5M829.85 477.45h-6.5M515.75 465.02h6.5M829.85 465.02h-6.5" stroke="#000" stroke-width="1.4" fill="none"/>
<g fill="none" stroke="#0000ff" stroke-width="1.4" clip-path="url(#cr3)"><circle cx="516.63" cy="462.29" r="3.5"/><circle cx="524.82" cy="462.29" r="3.5"/><circle cx="533.83" cy="462.29" r="3.5"/><circle cx="543.05" cy="467.61" r="3.5"/><circle cx="552.06" cy="469.66" r="3.5"/><circle cx="561.28" cy="470.48" r="3.5"/><circle cx="570.29" cy="471.51" r="3.5"/><circle cx="579.51" cy="476.22" r="3.5"/><circle cx="588.72" cy="479.9" r="3.5"/><circle cx="597.73" cy="481.75" r="3.5"/><circle cx="606.95" cy="482.77" r="3.5"/><circle cx="615.96" cy="487.89" r="3.5"/><circle cx="625.18" cy="492.19" r="3.5"/><circle cx="634.6" cy="493.83" r="3.5"/><circle cx="643.61" cy="495.88" r="3.5"/><circle cx="652.83" cy="502.43" r="3.5"/><circle cx="661.64" cy="504.48" r="3.5"/><circle cx="671.06" cy="506.12" r="3.5"/><circle cx="680.28" cy="512.27" r="3.5"/><circle cx="689.49" cy="516.77" r="3.5"/><circle cx="698.51" cy="521.69" r="3.5"/><circle cx="707.72" cy="527.01" r="3.5"/><circle cx="716.94" cy="530.49" r="3.5"/><circle cx="725.95" cy="536.23" r="3.5"/><circle cx="735.17" cy="540.53" r="3.5"/><circle cx="744.39" cy="548.72" r="3.5"/><circle cx="753.4" cy="555.28" r="3.5"/><circle cx="762.61" cy="562.65" r="3.5"/><circle cx="771.63" cy="573.92" r="3.5"/><circle cx="780.84" cy="585.18" r="3.5"/><circle cx="790.06" cy="591.33" r="3.5"/><circle cx="799.28" cy="599.11" r="3.5"/><circle cx="808.29" cy="601.98" r="3.5"/></g>
<path d="M515.4 463.11 L533.63 463.11 L535.47 464.34 L537.52 469.66 L539.57 471.1 L557.59 471.51 L574.59 472.53 L576.84 473.96 L578.89 479.29 L581.55 480.72 L610.84 482.77 L613.3 484.41 L615.35 490.55 L618.42 492.4 L644.64 495.47 L646.48 497.11 L648.12 503.25 L650.17 504.89 L660 506.12 L672.29 507.76 L674.34 509.4 L675.98 514.52 L678.43 515.95 L697.89 518.41 L699.94 519.84 L701.37 525.17 L703.83 526.6 L720.42 528.65 L722.27 529.88 L723.7 534.8 L725.95 536.02 L741.93 538.07 L743.36 539.3 L744.59 544.01 L746.43 545.24 L760.36 546.67 L761.8 547.9 L763.02 552.2 L764.87 553.43 L777.77 555.07 L779 556.3 L780.02 560.6 L781.87 561.63 L794.16 563.06 L795.39 564.08 L796.41 567.77 L798.05 568.8 L807.47 570.43 L808.9 571.66 L810.13 574.94 L811.98 575.96 L822.83 577.4 L824.06 578.42 L825.08 580.67 L826.72 581.49 L830 582.31" fill="none" stroke="#ff0000" stroke-width="1.5" stroke-linejoin="round" clip-path="url(#cr3)"/>
<text x="50.41" y="463.28" font-family="Liberation Sans, sans-serif" font-size="21.7" textLength="22.8" lengthAdjust="spacingAndGlyphs" stroke="#000" stroke-width="0.22">60</text>
<text x="50.41" y="513.03" font-family="Liberation Sans, sans-serif" font-size="21.7" textLength="22.8" lengthAdjust="spacingAndGlyphs" stroke="#000" stroke-width="0.22">40</text>
<text x="50.41" y="562.77" font-family="Liberation Sans, sans-serif" font-size="21.7" textLength="22.8" lengthAdjust="spacingAndGlyphs" stroke="#000" stroke-width="0.22">20</text>
<text x="492.79" y="513.03" font-family="Liberation Sans, sans-serif" font-size="21.7" textLength="11.4" lengthAdjust="spacingAndGlyphs" stroke="#000" stroke-width="0.22">4</text>
<text x="493.25" y="562.77" font-family="Liberation Sans, sans-serif" font-size="21.7" textLength="11.4" lengthAdjust="spacingAndGlyphs" stroke="#000" stroke-width="0.22">2</text>
<text x="492.99" y="612.52" font-family="Liberation Sans, sans-serif" font-size="21.7" textLength="11.4" lengthAdjust="spacingAndGlyphs" stroke="#000" stroke-width="0.22">0</text>
<text x="307.67" y="497.18" font-family="Liberation Sans, sans-serif" font-size="21.7" textLength="16.04" lengthAdjust="spacingAndGlyphs" stroke="#000" stroke-width="0.22">G</text><path d="M331.05 497.18L331.05 482.38L329.89 482.38Q328.28 484.48 325.92 485.38L325.92 487.18L329.14 487.18L329.14 497.18Z" fill="#000" stroke="#000" stroke-width="0.08"/><text x="335.17" y="497.18" font-family="Liberation Sans, sans-serif" font-size="21.7" textLength="13.75" lengthAdjust="spacingAndGlyphs" stroke="#000" stroke-width="0.22">S</text><path d="M356.26 497.18L356.26 482.38L355.11 482.38Q353.5 484.48 351.14 485.38L351.14 487.18L354.35 487.18L354.35 497.18Z" fill="#000" stroke="#000" stroke-width="0.08"/><text x="360.39" y="497.18" font-family="Liberation Sans, sans-serif" font-size="21.7" textLength="11.47" lengthAdjust="spacingAndGlyphs" stroke="#000" stroke-width="0.22">2</text>
<text x="308.88" y="517.58" font-family="Liberation Serif, serif" font-size="20.8" textLength="4.52" lengthAdjust="spacingAndGlyphs" stroke="#000" stroke-width="0.6">i</text>
<text x="325.06" y="518.58" font-family="Liberation Serif, serif" font-size="20.8" textLength="12.86" lengthAdjust="spacingAndGlyphs" stroke="#000" stroke-width="0.42">=</text>
<text x="350.31" y="518.28" font-family="Liberation Serif, serif" font-size="19.4" textLength="9.65" lengthAdjust="spacingAndGlyphs" stroke="#000" stroke-width="0.5">1</text>
<text x="360.58" y="518.28" font-family="Liberation Serif, serif" font-size="19.4" textLength="11.76" lengthAdjust="spacingAndGlyphs" stroke="#000" stroke-width="0.5">3</text>
<text x="372.43" y="518.28" font-family="Liberation Serif, serif" font-size="19.4" textLength="11.93" lengthAdjust="spacingAndGlyphs" stroke="#000" stroke-width="0.5">5</text>
<ellipse cx="387.95" cy="509.08" rx="2.55" ry="2.4" fill="none" stroke="#000" stroke-width="1.45"/>
<rect x="84.35" y="601.82" width="314.45" height="149.23" fill="none" stroke="#000" stroke-width="1.55"/>
<path d="M98.32 601.82v7M98.32 751.05v-7M112.3 601.82v7M112.3 751.05v-7M126.27 601.82v7M126.27 751.05v-7M140.25 601.82v7M140.25 751.05v-7M154.22 601.82v13.8M154.22 751.05v-13.8M168.19 601.82v7M168.19 751.05v-7M182.17 601.82v7M182.17 751.05v-7M196.14 601.82v7M196.14 751.05v-7M210.12 601.82v7M210.12 751.05v-7M224.09 601.82v13.8M224.09 751.05v-13.8M238.06 601.82v7M238.06 751.05v-7M252.04 601.82v7M252.04 751.05v-7M266.01 601.82v7M266.01 751.05v-7M279.99 601.82v7M279.99 751.05v-7M293.96 601.82v13.8M293.96 751.05v-13.8M307.93 601.82v7M307.93 751.05v-7M321.91 601.82v7M321.91 751.05v-7M335.88 601.82v7M335.88 751.05v-7M349.86 601.82v7M349.86 751.05v-7M363.83 601.82v13.8M363.83 751.05v-13.8M377.8 601.82v7M377.8 751.05v-7M391.78 601.82v7M391.78 751.05v-7M84.35 738.61h6.5M398.8 738.61h-6.5M84.35 726.18h6.5M398.8 726.18h-6.5M84.35 713.74h6.5M398.8 713.74h-6.5M84.35 701.31h12.7M398.8 701.31h-12.7M84.35 688.87h6.5M398.8 688.87h-6.5M84.35 676.43h6.5M398.8 676.43h-6.5M84.35 664h6.5M398.8 664h-6.5M84.35 651.56h12.7M398.8 651.56h-12.7M84.35 639.12h6.5M398.8 639.12h-6.5M84.35 626.69h6.5M398.8 626.69h-6.5M84.35 614.25h6.5M398.8 614.25h-6.5" stroke="#000" stroke-width="1.4" fill="none"/>
<g fill="none" stroke="#0000ff" stroke-width="1.4" clip-path="url(#cl4)"><circle cx="84.92" cy="614.34" r="3.5"/><circle cx="93.52" cy="646.08" r="3.5"/><circle cx="102.94" cy="716.13" r="3.5"/><circle cx="111.75" cy="675.17" r="3.5"/><circle cx="120.96" cy="636.46" r="3.5"/><circle cx="130.18" cy="636.46" r="3.5"/><circle cx="139.19" cy="675.17" r="3.5"/><circle cx="148.41" cy="720.23" r="3.5"/><circle cx="157.42" cy="661.86" r="3.5"/><circle cx="166.64" cy="654.28" r="3.5"/><circle cx="175.86" cy="695.04" r="3.5"/><circle cx="184.87" cy="702.41" r="3.5"/><circle cx="194.08" cy="666.77" r="3.5"/><circle cx="203.1" cy="689.1" r="3.5"/><circle cx="212.52" cy="715.93" r="3.5"/><circle cx="221.73" cy="678.45" r="3.5"/><circle cx="230.75" cy="710.19" r="3.5"/><circle cx="239.96" cy="700.36" r="3.5"/><circle cx="248.81" cy="697.9" r="3.5"/><circle cx="258.02" cy="718.18" r="3.5"/><circle cx="267.24" cy="703.02" r="3.5"/><circle cx="276.46" cy="717.57" r="3.5"/><circle cx="285.47" cy="720.43" r="3.5"/><circle cx="294.69" cy="710.6" r="3.5"/><circle cx="303.9" cy="729.04" r="3.5"/><circle cx="312.92" cy="728.42" r="3.5"/><circle cx="322.13" cy="718.8" r="3.5"/><circle cx="331.35" cy="718.8" r="3.5"/><circle cx="340.36" cy="720.43" r="3.5"/><circle cx="349.58" cy="722.07" r="3.5"/><circle cx="358.8" cy="721.25" r="3.5"/><circle cx="368.01" cy="721.46" r="3.5"/><circle cx="377.23" cy="721.05" r="3.5"/></g>
<path d="M82.46 615.7 L83.4 615.96 L84.35 616.75 L85.3 618.07 L86.25 619.9 L87.19 622.25 L88.14 625.09 L89.09 628.42 L90.03 632.22 L90.98 636.48 L91.93 641.17 L92.88 646.27 L93.82 651.77 L94.77 657.62 L95.72 663.81 L96.67 670.31 L97.61 677.06 L98.56 684.04 L99.51 691.19 L100.46 698.45 L101.4 705.72 L102.35 712.83 L103.3 719.45 L104.25 724.76 L105.19 726.99 L106.04 725.16 L106.88 720.81 L107.73 715.4 L108.57 709.57 L109.42 703.62 L110.26 697.67 L111.11 691.82 L111.95 686.1 L112.8 680.57 L113.64 675.25 L114.49 670.18 L115.33 665.38 L116.18 660.89 L117.02 656.71 L117.87 652.86 L118.71 649.38 L119.56 646.26 L120.4 643.54 L121.25 641.21 L122.09 639.29 L122.94 637.79 L123.78 636.71 L124.62 636.06 L125.47 635.84 L126.33 636.06 L127.19 636.73 L128.06 637.83 L128.92 639.37 L129.78 641.33 L130.64 643.71 L131.5 646.5 L132.37 649.68 L133.23 653.25 L134.09 657.17 L134.95 661.45 L135.81 666.05 L136.68 670.95 L137.54 676.14 L138.4 681.57 L139.26 687.23 L140.12 693.07 L140.98 699.06 L141.85 705.14 L142.71 711.23 L143.57 717.18 L144.43 722.72 L145.29 727.17 L146.16 729.04 L146.9 727.52 L147.64 723.9 L148.38 719.4 L149.13 714.55 L149.87 709.61 L150.61 704.66 L151.35 699.79 L152.1 695.04 L152.84 690.44 L153.58 686.02 L154.32 681.8 L155.07 677.82 L155.81 674.07 L156.55 670.6 L157.29 667.4 L158.04 664.51 L158.78 661.92 L159.52 659.65 L160.26 657.71 L161.01 656.12 L161.75 654.87 L162.49 653.97 L163.23 653.43 L163.98 653.25 L164.67 653.44 L165.36 653.98 L166.05 654.89 L166.74 656.16 L167.43 657.79 L168.12 659.75 L168.81 662.06 L169.51 664.69 L170.2 667.63 L170.89 670.88 L171.58 674.41 L172.27 678.21 L172.96 682.27 L173.65 686.55 L174.34 691.04 L175.04 695.72 L175.73 700.55 L176.42 705.5 L177.11 710.52 L177.8 715.55 L178.49 720.47 L179.18 725.05 L179.87 728.72 L180.57 730.27 L181.16 729.05 L181.74 726.16 L182.33 722.55 L182.92 718.68 L183.51 714.72 L184.1 710.77 L184.69 706.87 L185.28 703.07 L185.87 699.39 L186.45 695.85 L187.04 692.48 L187.63 689.29 L188.22 686.3 L188.81 683.52 L189.4 680.96 L189.99 678.64 L190.58 676.57 L191.17 674.76 L191.75 673.21 L192.34 671.93 L192.93 670.93 L193.52 670.21 L194.11 669.78 L194.7 669.64 L195.3 669.79 L195.89 670.23 L196.49 670.97 L197.09 672 L197.69 673.32 L198.28 674.91 L198.88 676.78 L199.48 678.91 L200.08 681.3 L200.67 683.94 L201.27 686.8 L201.87 689.89 L202.46 693.17 L203.06 696.65 L203.66 700.29 L204.26 704.08 L204.85 708 L205.45 712.02 L206.05 716.09 L206.65 720.17 L207.24 724.16 L207.84 727.88 L208.44 730.86 L209.04 732.11 L209.55 731.12 L210.06 728.78 L210.57 725.86 L211.08 722.71 L211.6 719.5 L212.11 716.3 L212.62 713.14 L213.13 710.06 L213.64 707.07 L214.16 704.21 L214.67 701.47 L215.18 698.88 L215.69 696.46 L216.2 694.2 L216.72 692.13 L217.23 690.25 L217.74 688.57 L218.25 687.1 L218.77 685.84 L219.28 684.81 L219.79 684 L220.3 683.42 L220.81 683.07 L221.33 682.95 L221.8 683.07 L222.28 683.44 L222.76 684.04 L223.24 684.89 L223.71 685.97 L224.19 687.27 L224.67 688.81 L225.15 690.56 L225.63 692.51 L226.1 694.67 L226.58 697.02 L227.06 699.55 L227.54 702.24 L228.02 705.09 L228.49 708.08 L228.97 711.19 L229.45 714.4 L229.93 717.69 L230.41 721.03 L230.88 724.37 L231.36 727.64 L231.84 730.69 L232.32 733.13 L232.8 734.16 L233.21 733.38 L233.62 731.52 L234.03 729.21 L234.44 726.72 L234.85 724.18 L235.26 721.64 L235.67 719.14 L236.08 716.7 L236.5 714.34 L236.91 712.07 L237.32 709.9 L237.73 707.85 L238.14 705.93 L238.55 704.15 L238.96 702.51 L239.37 701.02 L239.78 699.69 L240.2 698.53 L240.61 697.53 L241.02 696.71 L241.43 696.07 L241.84 695.61 L242.25 695.33 L242.66 695.24 L243.08 695.34 L243.5 695.62 L243.92 696.1 L244.34 696.77 L244.75 697.62 L245.17 698.65 L245.59 699.85 L246.01 701.23 L246.43 702.78 L246.84 704.48 L247.26 706.33 L247.68 708.32 L248.1 710.44 L248.52 712.69 L248.94 715.04 L249.35 717.49 L249.77 720.02 L250.19 722.61 L250.61 725.24 L251.03 727.88 L251.44 730.46 L251.86 732.86 L252.28 734.78 L252.7 735.59 L253.01 734.97 L253.31 733.51 L253.62 731.68 L253.93 729.72 L254.23 727.71 L254.54 725.71 L254.85 723.73 L255.16 721.81 L255.46 719.94 L255.77 718.15 L256.08 716.44 L256.39 714.83 L256.69 713.31 L257 711.9 L257.31 710.6 L257.61 709.43 L257.92 708.38 L258.23 707.46 L258.54 706.68 L258.84 706.03 L259.15 705.52 L259.46 705.16 L259.77 704.94 L260.07 704.87 L260.41 704.94 L260.74 705.17 L261.07 705.56 L261.4 706.09 L261.74 706.77 L262.07 707.6 L262.4 708.57 L262.73 709.67 L263.07 710.91 L263.4 712.27 L263.73 713.76 L264.07 715.36 L264.4 717.06 L264.73 718.86 L265.06 720.75 L265.4 722.71 L265.73 724.74 L266.06 726.82 L266.4 728.93 L266.73 731.04 L267.06 733.11 L267.39 735.04 L267.73 736.58 L268.06 737.23 L268.34 736.75 L268.62 735.61 L268.91 734.18 L269.19 732.65 L269.47 731.08 L269.75 729.52 L270.03 727.98 L270.31 726.48 L270.59 725.02 L270.88 723.63 L271.16 722.29 L271.44 721.03 L271.72 719.85 L272 718.75 L272.28 717.74 L272.57 716.82 L272.85 716 L273.13 715.29 L273.41 714.68 L273.69 714.17 L273.97 713.78 L274.26 713.49 L274.54 713.32 L274.82 713.27 L275.08 713.33 L275.33 713.51 L275.59 713.82 L275.84 714.25 L276.1 714.8 L276.36 715.46 L276.61 716.24 L276.87 717.13 L277.12 718.12 L277.38 719.22 L277.64 720.41 L277.89 721.7 L278.15 723.06 L278.4 724.51 L278.66 726.03 L278.92 727.61 L279.17 729.24 L279.43 730.91 L279.68 732.61 L279.94 734.31 L280.2 735.97 L280.45 737.52 L280.71 738.76 L280.96 739.28 L281.2 738.91 L281.44 738.03 L281.68 736.93 L281.92 735.75 L282.16 734.55 L282.4 733.35 L282.64 732.16 L282.88 731.01 L283.11 729.89 L283.35 728.81 L283.59 727.79 L283.83 726.82 L284.07 725.91 L284.31 725.06 L284.55 724.29 L284.79 723.58 L285.03 722.95 L285.27 722.4 L285.5 721.93 L285.74 721.54 L285.98 721.24 L286.22 721.02 L286.46 720.89 L286.7 720.84 L286.93 720.89 L287.16 721.04 L287.39 721.28 L287.62 721.62 L287.85 722.05 L288.08 722.57 L288.31 723.18 L288.54 723.88 L288.77 724.67 L289 725.53 L289.23 726.47 L289.46 727.48 L289.69 728.56 L289.92 729.7 L290.16 730.89 L290.39 732.14 L290.62 733.42 L290.85 734.74 L291.08 736.07 L291.31 737.41 L291.54 738.72 L291.77 739.94 L292 740.91 L292.23 741.33 L292.4 741 L292.57 740.24 L292.74 739.29 L292.91 738.27 L293.08 737.23 L293.25 736.19 L293.42 735.16 L293.59 734.16 L293.77 733.19 L293.94 732.26 L294.11 731.37 L294.28 730.53 L294.45 729.74 L294.62 729.01 L294.79 728.33 L294.96 727.72 L295.13 727.18 L295.3 726.7 L295.47 726.29 L295.64 725.95 L295.81 725.69 L295.98 725.5 L296.15 725.39 L296.33 725.35 L296.5 725.39 L296.68 725.51 L296.86 725.72 L297.04 726 L297.22 726.36 L297.4 726.8 L297.58 727.32 L297.76 727.9 L297.94 728.56 L298.12 729.29 L298.3 730.08 L298.48 730.93 L298.66 731.83 L298.83 732.79 L299.01 733.79 L299.19 734.84 L299.37 735.92 L299.55 737.02 L299.73 738.14 L299.91 739.27 L300.09 740.37 L300.27 741.39 L300.45 742.21 L300.63 742.55 L300.79 742.27 L300.95 741.61 L301.11 740.78 L301.28 739.89 L301.44 738.98 L301.6 738.07 L301.76 737.18 L301.92 736.31 L302.09 735.46 L302.25 734.65 L302.41 733.87 L302.57 733.14 L302.73 732.45 L302.9 731.81 L303.06 731.23 L303.22 730.69 L303.38 730.22 L303.55 729.8 L303.71 729.45 L303.87 729.15 L304.03 728.92 L304.19 728.76 L304.36 728.66 L304.52 728.63 L304.67 728.66 L304.83 728.77 L304.98 728.95 L305.13 729.2 L305.29 729.52 L305.44 729.91 L305.59 730.36 L305.75 730.88 L305.9 731.46 L306.05 732.1 L306.21 732.79 L306.36 733.54 L306.52 734.34 L306.67 735.18 L306.82 736.06 L306.98 736.98 L307.13 737.93 L307.28 738.91 L307.44 739.9 L307.59 740.89 L307.74 741.86 L307.9 742.76 L308.05 743.48 L308.2 743.78 L308.35 743.53 L308.49 742.92 L308.64 742.17 L308.79 741.36 L308.93 740.53 L309.08 739.7 L309.22 738.88 L309.37 738.09 L309.51 737.32 L309.66 736.57 L309.8 735.87 L309.95 735.2 L310.09 734.57 L310.24 733.99 L310.38 733.46 L310.53 732.97 L310.67 732.54 L310.82 732.16 L310.96 731.83 L311.11 731.56 L311.25 731.35 L311.4 731.2 L311.54 731.11 L311.69 731.08 L311.82 731.12 L311.96 731.21 L312.1 731.37 L312.23 731.6 L312.37 731.88 L312.51 732.23 L312.64 732.63 L312.78 733.09 L312.92 733.61 L313.05 734.18 L313.19 734.8 L313.33 735.47 L313.46 736.18 L313.6 736.93 L313.73 737.72 L313.87 738.54 L314.01 739.39 L314.14 740.25 L314.28 741.14 L314.42 742.02 L314.55 742.88 L314.69 743.69 L314.83 744.33 L314.96 744.6 L315.1 744.35 L315.24 743.76 L315.37 743.01 L315.51 742.21 L315.65 741.4 L315.78 740.58 L315.92 739.78 L316.06 739 L316.19 738.24 L316.33 737.51 L316.47 736.82 L316.6 736.16 L316.74 735.54 L316.88 734.97 L317.01 734.44 L317.15 733.96 L317.29 733.54 L317.42 733.16 L317.56 732.84 L317.69 732.58 L317.83 732.37 L317.97 732.23 L318.1 732.14 L318.24 732.11 L318.37 732.14 L318.5 732.23 L318.62 732.38 L318.75 732.6 L318.88 732.87 L319.01 733.2 L319.14 733.58 L319.27 734.02 L319.39 734.52 L319.52 735.06 L319.65 735.65 L319.78 736.29 L319.91 736.97 L320.03 737.69 L320.16 738.44 L320.29 739.22 L320.42 740.03 L320.55 740.86 L320.67 741.7 L320.8 742.55 L320.93 743.37 L321.06 744.14 L321.19 744.75 L321.31 745.01 L321.44 744.77 L321.57 744.18 L321.7 743.45 L321.83 742.66 L321.95 741.86 L322.08 741.06 L322.21 740.27 L322.34 739.5 L322.47 738.75 L322.59 738.04 L322.72 737.35 L322.85 736.71 L322.98 736.1 L323.11 735.54 L323.23 735.02 L323.36 734.55 L323.49 734.13 L323.62 733.76 L323.75 733.45 L323.87 733.19 L324 732.98 L324.13 732.84 L324.26 732.75 L324.39 732.72 L324.52 732.75 L324.66 732.84 L324.8 732.99 L324.93 733.2 L325.07 733.47 L325.2 733.79 L325.34 734.17 L325.48 734.61 L325.61 735.09 L325.75 735.63 L325.89 736.21 L326.02 736.84 L326.16 737.51 L326.3 738.21 L326.43 738.95 L326.57 739.73 L326.71 740.52 L326.84 741.34 L326.98 742.17 L327.12 743 L327.25 743.81 L327.39 744.56 L327.53 745.17 L327.66 745.42 L327.78 745.17 L327.9 744.56 L328.02 743.81 L328.14 743 L328.26 742.17 L328.38 741.34 L328.5 740.52 L328.62 739.73 L328.74 738.95 L328.86 738.21 L328.98 737.51 L329.1 736.84 L329.22 736.21 L329.34 735.63 L329.45 735.09 L329.57 734.61 L329.69 734.17 L329.81 733.79 L329.93 733.47 L330.05 733.2 L330.17 732.99 L330.29 732.84 L330.41 732.75 L330.53 732.72 L330.66 732.75 L330.79 732.85 L330.91 733 L331.04 733.22 L331.17 733.49 L331.3 733.83 L331.43 734.22 L331.55 734.67 L331.68 735.17 L331.81 735.72 L331.94 736.32 L332.07 736.97 L332.19 737.66 L332.32 738.39 L332.45 739.16 L332.58 739.95 L332.71 740.77 L332.83 741.62 L332.96 742.47 L333.09 743.33 L333.22 744.16 L333.35 744.94 L333.47 745.57 L333.6 745.83 L333.73 745.56 L333.86 744.9 L333.99 744.09 L334.11 743.21 L334.24 742.31 L334.37 741.42 L334.5 740.54 L334.63 739.68 L334.75 738.84 L334.88 738.04 L335.01 737.28 L335.14 736.56 L335.27 735.88 L335.39 735.25 L335.52 734.67 L335.65 734.15 L335.78 733.68 L335.91 733.27 L336.03 732.92 L336.16 732.63 L336.29 732.4 L336.42 732.24 L336.55 732.14 L336.67 732.11 L336.8 732.14 L336.93 732.24 L337.06 732.4 L337.19 732.63 L337.31 732.92 L337.44 733.27 L337.57 733.68 L337.7 734.15 L337.83 734.67 L337.95 735.25 L338.08 735.88 L338.21 736.56 L338.34 737.28 L338.47 738.04 L338.59 738.84 L338.72 739.68 L338.85 740.54 L338.98 741.42 L339.11 742.31 L339.23 743.21 L339.36 744.09 L339.49 744.9 L339.62 745.56 L339.75 745.83 L339.88 745.55 L340 744.87 L340.13 744.03 L340.26 743.13 L340.39 742.21 L340.52 741.29 L340.64 740.38 L340.77 739.49 L340.9 738.63 L341.03 737.81 L341.16 737.02 L341.28 736.28 L341.41 735.58 L341.54 734.93 L341.67 734.34 L341.8 733.8 L341.92 733.31 L342.05 732.89 L342.18 732.53 L342.31 732.23 L342.44 732 L342.56 731.83 L342.69 731.73 L342.82 731.7 L342.95 731.73 L343.08 731.83 L343.2 732 L343.33 732.23 L343.46 732.53 L343.59 732.89 L343.72 733.31 L343.84 733.8 L343.97 734.34 L344.1 734.93 L344.23 735.58 L344.36 736.28 L344.48 737.02 L344.61 737.81 L344.74 738.63 L344.87 739.49 L345 740.38 L345.12 741.29 L345.25 742.21 L345.38 743.13 L345.51 744.03 L345.64 744.87 L345.76 745.55 L345.89 745.83 L346.03 745.54 L346.16 744.83 L346.3 743.96 L346.44 743.01 L346.57 742.05 L346.71 741.09 L346.85 740.14 L346.98 739.22 L347.12 738.32 L347.26 737.46 L347.39 736.64 L347.53 735.86 L347.67 735.14 L347.8 734.46 L347.94 733.84 L348.08 733.27 L348.21 732.77 L348.35 732.33 L348.49 731.95 L348.62 731.64 L348.76 731.4 L348.9 731.22 L349.03 731.12 L349.17 731.08 L349.42 731.24 L349.68 731.71 L349.94 732.48 L350.19 733.53 L350.45 734.81 L350.7 736.3 L350.96 737.94 L351.22 739.69" fill="none" stroke="#ff0000" stroke-width="1.5" stroke-linejoin="round" clip-path="url(#cl4)"/>
<rect x="515.75" y="601.82" width="314.1" height="149.23" fill="none" stroke="#000" stroke-width="1.55"/>
<path d="M529.71 601.82v7M529.71 751.05v-7M543.67 601.82v7M543.67 751.05v-7M557.63 601.82v7M557.63 751.05v-7M571.59 601.82v7M571.59 751.05v-7M585.55 601.82v13.8M585.55 751.05v-13.8M599.51 601.82v7M599.51 751.05v-7M613.47 601.82v7M613.47 751.05v-7M627.43 601.82v7M627.43 751.05v-7M641.39 601.82v7M641.39 751.05v-7M655.35 601.82v13.8M655.35 751.05v-13.8M669.31 601.82v7M669.31 751.05v-7M683.27 601.82v7M683.27 751.05v-7M697.23 601.82v7M697.23 751.05v-7M711.19 601.82v7M711.19 751.05v-7M725.15 601.82v13.8M725.15 751.05v-13.8M739.11 601.82v7M739.11 751.05v-7M753.07 601.82v7M753.07 751.05v-7M767.03 601.82v7M767.03 751.05v-7M780.99 601.82v7M780.99 751.05v-7M794.95 601.82v13.8M794.95 751.05v-13.8M808.91 601.82v7M808.91 751.05v-7M822.87 601.82v7M822.87 751.05v-7M515.75 738.61h6.5M829.85 738.61h-6.5M515.75 726.18h6.5M829.85 726.18h-6.5M515.75 713.74h6.5M829.85 713.74h-6.5M515.75 701.31h12.7M829.85 701.31h-12.7M515.75 688.87h6.5M829.85 688.87h-6.5M515.75 676.43h6.5M829.85 676.43h-6.5M515.75 664h6.5M829.85 664h-6.5M515.75 651.56h12.7M829.85 651.56h-12.7M515.75 639.12h6.5M829.85 639.12h-6.5M515.75 626.69h6.5M829.85 626.69h-6.5M515.75 614.25h6.5M829.85 614.25h-6.5" stroke="#000" stroke-width="1.4" fill="none"/>
<g fill="none" stroke="#0000ff" stroke-width="1.4" clip-path="url(#cr4)"><circle cx="516.63" cy="611.67" r="3.5"/><circle cx="524.82" cy="611.67" r="3.5"/><circle cx="533.83" cy="611.67" r="3.5"/><circle cx="543.05" cy="618.02" r="3.5"/><circle cx="552.06" cy="620.28" r="3.5"/><circle cx="561.28" cy="621.92" r="3.5"/><circle cx="570.29" cy="623.35" r="3.5"/><circle cx="579.51" cy="629.29" r="3.5"/><circle cx="588.72" cy="632.36" r="3.5"/><circle cx="597.73" cy="634" r="3.5"/><circle cx="606.95" cy="635.84" r="3.5"/><circle cx="615.96" cy="642.81" r="3.5"/><circle cx="625.18" cy="645.47" r="3.5"/><circle cx="634.6" cy="647.52" r="3.5"/><circle cx="643.61" cy="654.48" r="3.5"/><circle cx="652.83" cy="658.58" r="3.5"/><circle cx="661.64" cy="660.63" r="3.5"/><circle cx="671.06" cy="668" r="3.5"/><circle cx="680.28" cy="671.07" r="3.5"/><circle cx="689.49" cy="678.04" r="3.5"/><circle cx="698.51" cy="681.52" r="3.5"/><circle cx="707.72" cy="689.1" r="3.5"/><circle cx="716.94" cy="695.04" r="3.5"/><circle cx="725.95" cy="701.59" r="3.5"/><circle cx="735.17" cy="711.01" r="3.5"/><circle cx="744.39" cy="719.82" r="3.5"/><circle cx="753.4" cy="729.65" r="3.5"/><circle cx="762.61" cy="739.48" r="3.5"/><circle cx="771.63" cy="743.37" r="3.5"/><circle cx="780.84" cy="746.04" r="3.5"/><circle cx="790.06" cy="746.04" r="3.5"/><circle cx="799.28" cy="746.45" r="3.5"/><circle cx="808.29" cy="746.65" r="3.5"/></g>
<path d="M515.4 612.29 L534.65 612.29 L535.88 613.52 L537.11 618.02 L538.34 619.05 L575.61 619.05 L576.84 620.28 L577.87 624.78 L579.1 626.01 L610.84 626.01 L611.87 627.04 L612.89 631.75 L614.12 632.77 L639.11 632.77 L640.13 634 L641.16 638.92 L642.39 640.14 L660 640.14 L662.46 640.35 L663.69 641.78 L664.71 646.29 L666.14 647.52 L682.12 647.52 L683.14 648.75 L684.17 654.48 L685.4 655.71 L698.51 655.71 L699.33 656.94 L700.35 663.9 L701.58 665.13 L711.2 665.54 L712.02 666.77 L713.05 674.96 L714.28 676.19 L721.45 676.81 L722.47 678.24 L723.7 687.66 L724.93 689.1 L730.66 689.71 L731.69 691.35 L732.71 702 L733.94 703.43 L738.24 704.46 L739.06 706.1 L739.88 717.16 L740.9 718.8 L744.39 719.82 L745.2 721.25 L746.02 728.63 L747.25 730.27 L750.12 732.11 L751.35 734.16 L752.58 739.28 L755.24 741.73 L758.31 743.37 L761.39 745.42 L764.46 747.06 L768.14 748.49 L771.63 749.52 L776.75 750.34 L782.89 750.75 L803.37 751.16 L830 751.16" fill="none" stroke="#ff0000" stroke-width="1.5" stroke-linejoin="round" clip-path="url(#cr4)"/>
<text x="50.41" y="612.52" font-family="Liberation Sans, sans-serif" font-size="21.7" textLength="22.8" lengthAdjust="spacingAndGlyphs" stroke="#000" stroke-width="0.22">60</text>
<text x="50.41" y="662.26" font-family="Liberation Sans, sans-serif" font-size="21.7" textLength="22.8" lengthAdjust="spacingAndGlyphs" stroke="#000" stroke-width="0.22">40</text>
<text x="50.41" y="712.01" font-family="Liberation Sans, sans-serif" font-size="21.7" textLength="22.8" lengthAdjust="spacingAndGlyphs" stroke="#000" stroke-width="0.22">20</text>
<text x="61.79" y="761.75" font-family="Liberation Sans, sans-serif" font-size="21.7" textLength="11.4" lengthAdjust="spacingAndGlyphs" stroke="#000" stroke-width="0.22">0</text>
<text x="492.79" y="662.26" font-family="Liberation Sans, sans-serif" font-size="21.7" textLength="11.4" lengthAdjust="spacingAndGlyphs" stroke="#000" stroke-width="0.22">4</text>
<text x="493.25" y="712.01" font-family="Liberation Sans, sans-serif" font-size="21.7" textLength="11.4" lengthAdjust="spacingAndGlyphs" stroke="#000" stroke-width="0.22">2</text>
<text x="492.99" y="761.75" font-family="Liberation Sans, sans-serif" font-size="21.7" textLength="11.4" lengthAdjust="spacingAndGlyphs" stroke="#000" stroke-width="0.22">0</text>
<text x="307.67" y="646.42" font-family="Liberation Sans, sans-serif" font-size="21.7" textLength="16" lengthAdjust="spacingAndGlyphs" stroke="#000" stroke-width="0.22">G</text><path d="M330.99 646.42L330.99 631.62L329.84 631.62Q328.23 633.72 325.88 634.62L325.88 636.42L329.09 636.42L329.09 646.42Z" fill="#000" stroke="#000" stroke-width="0.08"/><text x="335.11" y="646.42" font-family="Liberation Sans, sans-serif" font-size="21.7" textLength="13.72" lengthAdjust="spacingAndGlyphs" stroke="#000" stroke-width="0.22">S</text><path d="M356.15 646.42L356.15 631.62L354.99 631.62Q353.39 633.72 351.03 634.62L351.03 636.42L354.24 636.42L354.24 646.42Z" fill="#000" stroke="#000" stroke-width="0.08"/><text x="360.26" y="646.42" font-family="Liberation Sans, sans-serif" font-size="21.7" textLength="11.44" lengthAdjust="spacingAndGlyphs" stroke="#000" stroke-width="0.22">3</text>
<text x="308.88" y="666.82" font-family="Liberation Serif, serif" font-size="20.8" textLength="4.52" lengthAdjust="spacingAndGlyphs" stroke="#000" stroke-width="0.6">i</text>
<text x="325.06" y="667.82" font-family="Liberation Serif, serif" font-size="20.8" textLength="12.86" lengthAdjust="spacingAndGlyphs" stroke="#000" stroke-width="0.42">=</text>
<text x="350.31" y="667.52" font-family="Liberation Serif, serif" font-size="19.4" textLength="9.65" lengthAdjust="spacingAndGlyphs" stroke="#000" stroke-width="0.5">1</text>
<text x="360.82" y="667.52" font-family="Liberation Serif, serif" font-size="19.4" textLength="11.76" lengthAdjust="spacingAndGlyphs" stroke="#000" stroke-width="0.5">8</text>
<text x="373.17" y="667.52" font-family="Liberation Serif, serif" font-size="19.4" textLength="11.06" lengthAdjust="spacingAndGlyphs" stroke="#000" stroke-width="0.5">0</text>
<ellipse cx="387.95" cy="658.32" rx="2.55" ry="2.4" fill="none" stroke="#000" stroke-width="1.45"/>
<text x="78.39" y="782.5" font-family="Liberation Sans, sans-serif" font-size="21.7" textLength="11.4" lengthAdjust="spacingAndGlyphs" stroke="#000" stroke-width="0.22">0</text>
<text x="509.79" y="782.5" font-family="Liberation Sans, sans-serif" font-size="21.7" textLength="11.4" lengthAdjust="spacingAndGlyphs" stroke="#000" stroke-width="0.22">0</text>
<path d="M156.07 782.5L156.07 767.7L154.92 767.7Q153.32 769.8 150.97 770.7L150.97 772.5L154.17 772.5L154.17 782.5Z" fill="#000" stroke="#000" stroke-width="0.08"/>
<path d="M587.4 782.5L587.4 767.7L586.25 767.7Q584.65 769.8 582.3 770.7L582.3 772.5L585.5 772.5L585.5 782.5Z" fill="#000" stroke="#000" stroke-width="0.08"/>
<text x="218.15" y="782.5" font-family="Liberation Sans, sans-serif" font-size="21.7" textLength="11.4" lengthAdjust="spacingAndGlyphs" stroke="#000" stroke-width="0.22">2</text>
<text x="649.41" y="782.5" font-family="Liberation Sans, sans-serif" font-size="21.7" textLength="11.4" lengthAdjust="spacingAndGlyphs" stroke="#000" stroke-width="0.22">2</text>
<text x="288.07" y="782.5" font-family="Liberation Sans, sans-serif" font-size="21.7" textLength="11.4" lengthAdjust="spacingAndGlyphs" stroke="#000" stroke-width="0.22">3</text>
<text x="719.26" y="782.5" font-family="Liberation Sans, sans-serif" font-size="21.7" textLength="11.4" lengthAdjust="spacingAndGlyphs" stroke="#000" stroke-width="0.22">3</text>
<text x="357.94" y="782.5" font-family="Liberation Sans, sans-serif" font-size="21.7" textLength="11.4" lengthAdjust="spacingAndGlyphs" stroke="#000" stroke-width="0.22">4</text>
<text x="789.06" y="782.5" font-family="Liberation Sans, sans-serif" font-size="21.7" textLength="11.4" lengthAdjust="spacingAndGlyphs" stroke="#000" stroke-width="0.22">4</text>
<text x="186.41" y="807.7" font-family="Liberation Serif, serif" font-size="20.8" textLength="12.69" lengthAdjust="spacingAndGlyphs" stroke="#000" stroke-width="0.36">T</text><text x="198.61" y="807.7" font-family="Liberation Serif, serif" font-size="20.8" textLength="5.09" lengthAdjust="spacingAndGlyphs" stroke="#000" stroke-width="0.36">i</text><text x="203.47" y="807.7" font-family="Liberation Serif, serif" font-size="20.8" textLength="19.7" lengthAdjust="spacingAndGlyphs" stroke="#000" stroke-width="0.36">m</text><text x="223.67" y="807.7" font-family="Liberation Serif, serif" font-size="20.8" textLength="11.16" lengthAdjust="spacingAndGlyphs" stroke="#000" stroke-width="0.36">e</text><text x="245.49" y="807.7" font-family="Liberation Serif, serif" font-size="20.8" textLength="6.53" lengthAdjust="spacingAndGlyphs" stroke="#000" stroke-width="0.36">(</text><text x="253.54" y="807.7" font-family="Liberation Serif, serif" font-size="20.8" textLength="13.33" lengthAdjust="spacingAndGlyphs" stroke="#000" stroke-width="0.36">G</text><text x="266.89" y="807.7" font-family="Liberation Serif, serif" font-size="20.8" textLength="11.3" lengthAdjust="spacingAndGlyphs" stroke="#000" stroke-width="0.36">y</text><text x="278.84" y="807.7" font-family="Liberation Serif, serif" font-size="20.8" textLength="8.84" lengthAdjust="spacingAndGlyphs" stroke="#000" stroke-width="0.36">r</text><text x="289.22" y="807.7" font-family="Liberation Serif, serif" font-size="20.8" textLength="6.72" lengthAdjust="spacingAndGlyphs" stroke="#000" stroke-width="0.36">)</text>
<text x="617.64" y="807.7" font-family="Liberation Serif, serif" font-size="20.8" textLength="12.69" lengthAdjust="spacingAndGlyphs" stroke="#000" stroke-width="0.36">T</text><text x="629.83" y="807.7" font-family="Liberation Serif, serif" font-size="20.8" textLength="5.09" lengthAdjust="spacingAndGlyphs" stroke="#000" stroke-width="0.36">i</text><text x="634.69" y="807.7" font-family="Liberation Serif, serif" font-size="20.8" textLength="19.7" lengthAdjust="spacingAndGlyphs" stroke="#000" stroke-width="0.36">m</text><text x="654.89" y="807.7" font-family="Liberation Serif, serif" font-size="20.8" textLength="11.16" lengthAdjust="spacingAndGlyphs" stroke="#000" stroke-width="0.36">e</text><text x="676.72" y="807.7" font-family="Liberation Serif, serif" font-size="20.8" textLength="6.53" lengthAdjust="spacingAndGlyphs" stroke="#000" stroke-width="0.36">(</text><text x="684.76" y="807.7" font-family="Liberation Serif, serif" font-size="20.8" textLength="13.33" lengthAdjust="spacingAndGlyphs" stroke="#000" stroke-width="0.36">G</text><text x="698.12" y="807.7" font-family="Liberation Serif, serif" font-size="20.8" textLength="11.3" lengthAdjust="spacingAndGlyphs" stroke="#000" stroke-width="0.36">y</text><text x="710.07" y="807.7" font-family="Liberation Serif, serif" font-size="20.8" textLength="8.84" lengthAdjust="spacingAndGlyphs" stroke="#000" stroke-width="0.36">r</text><text x="720.44" y="807.7" font-family="Liberation Serif, serif" font-size="20.8" textLength="6.72" lengthAdjust="spacingAndGlyphs" stroke="#000" stroke-width="0.36">)</text>
<g transform="translate(17.9,442.6) rotate(-90)"><text x="-0.41" y="0" font-family="Liberation Serif, serif" font-size="20.8" textLength="13.65" lengthAdjust="spacingAndGlyphs" stroke="#000" stroke-width="0.36">R</text><text x="13.26" y="0" font-family="Liberation Serif, serif" font-size="20.8" textLength="9.33" lengthAdjust="spacingAndGlyphs" stroke="#000" stroke-width="0.36">a</text><text x="22.87" y="0" font-family="Liberation Serif, serif" font-size="20.8" textLength="10.5" lengthAdjust="spacingAndGlyphs" stroke="#000" stroke-width="0.36">d</text><text x="33.76" y="0" font-family="Liberation Serif, serif" font-size="20.8" textLength="6.14" lengthAdjust="spacingAndGlyphs" stroke="#000" stroke-width="0.36">i</text><text x="40.39" y="0" font-family="Liberation Serif, serif" font-size="20.8" textLength="12.55" lengthAdjust="spacingAndGlyphs" stroke="#000" stroke-width="0.36">u</text><text x="53.87" y="0" font-family="Liberation Serif, serif" font-size="20.8" textLength="11.96" lengthAdjust="spacingAndGlyphs" stroke="#000" stroke-width="0.36">s</text><text x="77.8" y="0" font-family="Liberation Serif, serif" font-size="20.8" textLength="6.66" lengthAdjust="spacingAndGlyphs" stroke="#000" stroke-width="0.36">(</text><text x="85.01" y="0" font-family="Liberation Serif, serif" font-size="20.8" textLength="9.79" lengthAdjust="spacingAndGlyphs" stroke="#000" stroke-width="0.36">k</text><text x="95.75" y="0" font-family="Liberation Serif, serif" font-size="20.8" textLength="11.69" lengthAdjust="spacingAndGlyphs" stroke="#000" stroke-width="0.36">p</text><text x="109.56" y="0" font-family="Liberation Serif, serif" font-size="20.8" textLength="11.13" lengthAdjust="spacingAndGlyphs" stroke="#000" stroke-width="0.36">c</text><text x="121.92" y="0" font-family="Liberation Serif, serif" font-size="20.8" textLength="6.98" lengthAdjust="spacingAndGlyphs" stroke="#000" stroke-width="0.36">)</text></g>
<g transform="translate(446.3,446.5) rotate(-90)">
<text x="14.68" y="0" font-family="Liberation Serif, serif" font-size="20.8" textLength="9.1" lengthAdjust="spacingAndGlyphs" stroke="#000" stroke-width="0.36">a</text><text x="14.68" y="0" font-family="Liberation Serif, serif" font-size="20.8" textLength="9.1" lengthAdjust="spacingAndGlyphs" stroke="#000" stroke-width="0.36">a</text><text x="24.47" y="0" font-family="Liberation Serif, serif" font-size="20.8" textLength="10.96" lengthAdjust="spacingAndGlyphs" stroke="#000" stroke-width="0.36">s</text><text x="35.71" y="0" font-family="Liberation Serif, serif" font-size="20.8" textLength="10.59" lengthAdjust="spacingAndGlyphs" stroke="#000" stroke-width="0.36">s</text><text x="57.05" y="0" font-family="Liberation Serif, serif" font-size="20.8" textLength="7.05" lengthAdjust="spacingAndGlyphs" stroke="#000" stroke-width="0.36">(</text>
<text x="-0.16" y="0" font-family="Liberation Serif, serif" font-size="20.8" textLength="13.5" lengthAdjust="spacingAndGlyphs" stroke="#000" stroke-width="0.55">M</text>
<text x="66.11" y="0" font-family="Liberation Serif, serif" font-size="20.2" textLength="7.94" lengthAdjust="spacingAndGlyphs" stroke="#000" stroke-width="0.5">1</text>
<text x="76.58" y="0" font-family="Liberation Serif, serif" font-size="20.2" textLength="10.94" lengthAdjust="spacingAndGlyphs" stroke="#000" stroke-width="0.5">0</text>
<text x="88.27" y="-5.4" font-family="Liberation Serif, serif" font-size="13.8" textLength="6.67" lengthAdjust="spacingAndGlyphs" stroke="#000" stroke-width="0.42">9</text>
<text x="105.56" y="0" font-family="Liberation Serif, serif" font-size="20.8" textLength="13.18" lengthAdjust="spacingAndGlyphs" stroke="#000" stroke-width="0.55">M</text>
<circle cx="124.6" cy="1.1" r="3.7" fill="none" stroke="#000" stroke-width="1.15"/><circle cx="124.6" cy="1.1" r="1.0" fill="#000"/>
<text x="130.44" y="0" font-family="Liberation Serif, serif" font-size="20.8" textLength="6.72" lengthAdjust="spacingAndGlyphs" stroke="#000" stroke-width="0.36">)</text>
</g>
</svg>
</body></html>
